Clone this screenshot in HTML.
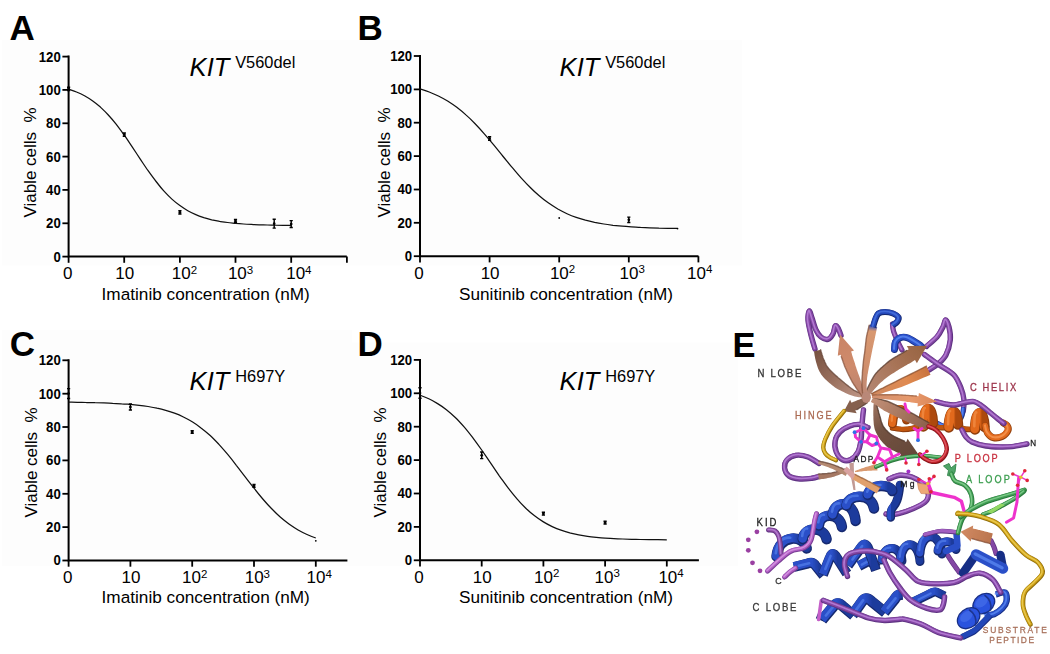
<!DOCTYPE html>
<html lang="en">
<head>
<meta charset="utf-8">
<title>KIT mutant drug response and kinase structure</title>
<style>
html,body{margin:0;padding:0;background:#fff;}
body{width:1050px;height:654px;overflow:hidden;font-family:"Liberation Sans", Arial, Helvetica, sans-serif;}
svg{display:block;}
svg text{font-family:"Liberation Sans", Arial, Helvetica, sans-serif;fill:#000;}
</style>
</head>
<body>
<svg width="1050" height="654" viewBox="0 0 1050 654">
<rect x="0" y="0" width="1050" height="654" fill="#ffffff"/>
<rect x="2" y="40" width="740" height="225.5" fill="#fdfdfd"/>
<rect x="2" y="330" width="350" height="236" fill="#fdfdfd"/>
<rect x="352" y="342.5" width="386" height="223.5" fill="#fdfdfd"/>
<g id="chartA">
<text x="9.6" y="39.8" font-size="35" font-weight="bold">A</text>
<path d="M68.6 55.6 V256.6 H346.8" fill="none" stroke="#000" stroke-width="2"/>
<path d="M62.4 256.6 H68.6" stroke="#000" stroke-width="1.8"/>
<text transform="translate(60.8 261.5) scale(0.95 1)" font-size="13.9" font-weight="bold" text-anchor="end">0</text>
<path d="M62.4 223.3 H68.6" stroke="#000" stroke-width="1.8"/>
<text transform="translate(60.8 228.2) scale(0.95 1)" font-size="13.9" font-weight="bold" text-anchor="end">20</text>
<path d="M62.4 189.9 H68.6" stroke="#000" stroke-width="1.8"/>
<text transform="translate(60.8 194.8) scale(0.95 1)" font-size="13.9" font-weight="bold" text-anchor="end">40</text>
<path d="M62.4 156.6 H68.6" stroke="#000" stroke-width="1.8"/>
<text transform="translate(60.8 161.5) scale(0.95 1)" font-size="13.9" font-weight="bold" text-anchor="end">60</text>
<path d="M62.4 123.3 H68.6" stroke="#000" stroke-width="1.8"/>
<text transform="translate(60.8 128.2) scale(0.95 1)" font-size="13.9" font-weight="bold" text-anchor="end">80</text>
<path d="M62.4 89.9 H68.6" stroke="#000" stroke-width="1.8"/>
<text transform="translate(60.8 94.8) scale(0.95 1)" font-size="13.9" font-weight="bold" text-anchor="end">100</text>
<path d="M62.4 56.6 H68.6" stroke="#000" stroke-width="1.8"/>
<text transform="translate(60.8 61.5) scale(0.95 1)" font-size="13.9" font-weight="bold" text-anchor="end">120</text>
<path d="M68.6 256.6 V262.8" stroke="#000" stroke-width="1.8"/>
<path d="M124.2 256.6 V262.8" stroke="#000" stroke-width="1.8"/>
<path d="M179.9 256.6 V262.8" stroke="#000" stroke-width="1.8"/>
<path d="M235.5 256.6 V262.8" stroke="#000" stroke-width="1.8"/>
<path d="M291.2 256.6 V262.8" stroke="#000" stroke-width="1.8"/>
<path d="M346.9 256.6 V262.8" stroke="#000" stroke-width="1.8"/>
<text x="67.7" y="278.9" font-size="17" text-anchor="middle">0</text>
<text x="124.8" y="278.9" font-size="17" text-anchor="middle">10</text>
<text x="171.8" y="278.9" font-size="17">10<tspan font-size="11.5" dy="-5.2">2</tspan></text>
<text x="227.9" y="278.9" font-size="17">10<tspan font-size="11.5" dy="-5.2">3</tspan></text>
<text x="286.2" y="278.9" font-size="17">10<tspan font-size="11.5" dy="-5.2">4</tspan></text>
<text x="101.6" y="299.6" font-size="17.2">Imatinib concentration (nM)</text>
<text transform="translate(36.4 217.6) rotate(-90)" font-size="17" xml:space="preserve">Viable cells  %</text>
<text x="189.6" y="75.8" font-size="25.6" font-style="italic">KIT</text>
<text x="235.2" y="68.1" font-size="16.4">V560del</text>
<path d="M68.6 89.1C69.9 89.6 73.9 90.9 76.5 92.0C79.2 93.1 81.8 94.3 84.5 95.8C87.2 97.3 89.8 98.9 92.4 100.8C95.1 102.7 97.7 104.8 100.4 107.1C103.0 109.5 105.7 112.1 108.3 115.0C111.0 117.9 113.6 121.0 116.3 124.4C118.9 127.8 121.6 131.4 124.2 135.2C126.9 138.9 129.5 142.9 132.2 146.9C134.8 150.8 137.5 154.9 140.1 158.9C142.8 162.9 145.4 166.9 148.1 170.7C150.8 174.5 153.4 178.1 156.1 181.5C158.7 184.9 161.3 188.2 164.0 191.1C166.7 194.0 169.3 196.7 171.9 199.1C174.6 201.5 177.2 203.7 179.9 205.6C182.5 207.5 185.2 209.2 187.8 210.7C190.5 212.2 193.2 213.5 195.8 214.6C198.5 215.8 201.1 216.7 203.8 217.6C206.4 218.4 209.0 219.1 211.7 219.8C214.3 220.4 217.0 220.9 219.6 221.4C222.3 221.8 224.9 222.2 227.6 222.5C230.2 222.9 232.9 223.1 235.5 223.4C238.2 223.6 240.8 223.8 243.5 224.0C246.2 224.2 248.8 224.3 251.4 224.4C254.1 224.6 256.8 224.7 259.4 224.8C262.0 224.9 264.7 224.9 267.4 225.0C270.0 225.1 272.6 225.1 275.3 225.2C277.9 225.2 280.6 225.2 283.2 225.3C285.9 225.3 289.9 225.3 291.2 225.4" fill="none" stroke="#111" stroke-width="1.25"/>
<path d="M68.6 87.2 V90.4 M67.0 87.2 H70.2 M67.0 90.4 H70.2" stroke="#000" stroke-width="1.45" fill="none"/>
<circle cx="68.6" cy="88.8" r="1.35" fill="#000"/>
<path d="M124.3 133.0 V136.2 M122.7 133.0 H125.9 M122.7 136.2 H125.9" stroke="#000" stroke-width="1.45" fill="none"/>
<circle cx="124.3" cy="134.6" r="1.35" fill="#000"/>
<path d="M179.9 210.7 V213.9 M178.3 210.7 H181.5 M178.3 213.9 H181.5" stroke="#000" stroke-width="1.45" fill="none"/>
<circle cx="179.9" cy="212.3" r="1.35" fill="#000"/>
<path d="M235.5 219.5 V222.3 M233.9 219.5 H237.1 M233.9 222.3 H237.1" stroke="#000" stroke-width="1.45" fill="none"/>
<circle cx="235.5" cy="220.9" r="1.35" fill="#000"/>
<path d="M274.2 219.3 V228.1 M272.6 219.3 H275.8 M272.6 228.1 H275.8" stroke="#000" stroke-width="1.45" fill="none"/>
<circle cx="274.2" cy="223.7" r="1.35" fill="#000"/>
<path d="M291.2 220.6 V227.4 M289.6 220.6 H292.8 M289.6 227.4 H292.8" stroke="#000" stroke-width="1.45" fill="none"/>
<circle cx="291.2" cy="224.0" r="1.35" fill="#000"/>
</g>
<g id="chartB">
<text x="357.6" y="39.6" font-size="35" font-weight="bold">B</text>
<path d="M420.0 55.0 V256.2 H698.5" fill="none" stroke="#000" stroke-width="2"/>
<path d="M413.8 256.2 H420.0" stroke="#000" stroke-width="1.8"/>
<text transform="translate(412.2 261.1) scale(0.95 1)" font-size="13.9" font-weight="bold" text-anchor="end">0</text>
<path d="M413.8 222.8 H420.0" stroke="#000" stroke-width="1.8"/>
<text transform="translate(412.2 227.7) scale(0.95 1)" font-size="13.9" font-weight="bold" text-anchor="end">20</text>
<path d="M413.8 189.5 H420.0" stroke="#000" stroke-width="1.8"/>
<text transform="translate(412.2 194.4) scale(0.95 1)" font-size="13.9" font-weight="bold" text-anchor="end">40</text>
<path d="M413.8 156.1 H420.0" stroke="#000" stroke-width="1.8"/>
<text transform="translate(412.2 161.0) scale(0.95 1)" font-size="13.9" font-weight="bold" text-anchor="end">60</text>
<path d="M413.8 122.7 H420.0" stroke="#000" stroke-width="1.8"/>
<text transform="translate(412.2 127.6) scale(0.95 1)" font-size="13.9" font-weight="bold" text-anchor="end">80</text>
<path d="M413.8 89.4 H420.0" stroke="#000" stroke-width="1.8"/>
<text transform="translate(412.2 94.3) scale(0.95 1)" font-size="13.9" font-weight="bold" text-anchor="end">100</text>
<path d="M413.8 56.0 H420.0" stroke="#000" stroke-width="1.8"/>
<text transform="translate(412.2 60.9) scale(0.95 1)" font-size="13.9" font-weight="bold" text-anchor="end">120</text>
<path d="M420.0 256.2 V262.4" stroke="#000" stroke-width="1.8"/>
<path d="M489.6 256.2 V262.4" stroke="#000" stroke-width="1.8"/>
<path d="M559.2 256.2 V262.4" stroke="#000" stroke-width="1.8"/>
<path d="M628.8 256.2 V262.4" stroke="#000" stroke-width="1.8"/>
<path d="M698.4 256.2 V262.4" stroke="#000" stroke-width="1.8"/>
<text x="419.1" y="278.5" font-size="17" text-anchor="middle">0</text>
<text x="490.1" y="278.5" font-size="17" text-anchor="middle">10</text>
<text x="549.9" y="278.5" font-size="17">10<tspan font-size="11.5" dy="-5.2">2</tspan></text>
<text x="619.5" y="278.5" font-size="17">10<tspan font-size="11.5" dy="-5.2">3</tspan></text>
<text x="687.1" y="278.5" font-size="17">10<tspan font-size="11.5" dy="-5.2">4</tspan></text>
<text x="459.0" y="299.6" font-size="17.2">Sunitinib concentration (nM)</text>
<text transform="translate(389.7 217.6) rotate(-90)" font-size="17" xml:space="preserve">Viable cells  %</text>
<text x="559.6" y="75.8" font-size="25.6" font-style="italic">KIT</text>
<text x="605.2" y="68.1" font-size="16.4">V560del</text>
<path d="M420.0 88.9C421.5 89.4 426.1 90.8 429.2 92.0C432.3 93.2 435.3 94.5 438.4 96.0C441.4 97.5 444.5 99.2 447.6 101.0C450.6 102.9 453.7 105.0 456.8 107.3C459.8 109.6 462.9 112.1 465.9 114.9C469.0 117.6 472.1 120.6 475.1 123.7C478.2 126.9 481.3 130.3 484.3 133.8C487.4 137.3 490.5 141.0 493.5 144.7C496.6 148.4 499.6 152.2 502.7 156.0C505.8 159.7 508.8 163.6 511.9 167.2C515.0 170.8 518.0 174.5 521.1 177.9C524.1 181.2 527.2 184.5 530.3 187.5C533.3 190.6 536.4 193.4 539.5 196.0C542.5 198.6 545.6 201.0 548.6 203.1C551.7 205.3 554.8 207.2 557.8 209.0C560.9 210.7 564.0 212.3 567.0 213.7C570.1 215.1 573.2 216.3 576.2 217.3C579.3 218.4 582.3 219.3 585.4 220.2C588.5 221.0 591.5 221.7 594.6 222.4C597.7 223.0 600.7 223.5 603.8 224.0C606.8 224.5 609.9 224.9 613.0 225.3C616.0 225.6 619.1 225.9 622.2 226.2C625.2 226.5 628.3 226.7 631.4 226.9C634.4 227.1 637.5 227.2 640.5 227.4C643.6 227.5 646.7 227.7 649.7 227.8C652.8 227.9 655.9 228.0 658.9 228.1C662.0 228.1 665.0 228.2 668.1 228.3C671.2 228.3 675.8 228.4 677.3 228.4" fill="none" stroke="#111" stroke-width="1.25"/>
<path d="M489.6 136.8 V140.2 M488.0 136.8 H491.2 M488.0 140.2 H491.2" stroke="#000" stroke-width="1.45" fill="none"/>
<circle cx="489.6" cy="138.5" r="1.35" fill="#000"/>
<circle cx="559.2" cy="218.0" r="0.9" fill="#000"/>
<path d="M628.8 217.1 V222.5 M627.2 217.1 H630.4 M627.2 222.5 H630.4" stroke="#000" stroke-width="1.45" fill="none"/>
<circle cx="628.8" cy="219.8" r="1.35" fill="#000"/>
<circle cx="677.5" cy="228.6" r="0.9" fill="#000"/>
</g>
<g id="chartC">
<text x="9.8" y="356.2" font-size="35" font-weight="bold">C</text>
<path d="M68.6 359.3 V560.5 H347.4" fill="none" stroke="#000" stroke-width="2"/>
<path d="M62.4 560.5 H68.6" stroke="#000" stroke-width="1.8"/>
<text transform="translate(60.8 565.4) scale(0.95 1)" font-size="13.9" font-weight="bold" text-anchor="end">0</text>
<path d="M62.4 527.1 H68.6" stroke="#000" stroke-width="1.8"/>
<text transform="translate(60.8 532.0) scale(0.95 1)" font-size="13.9" font-weight="bold" text-anchor="end">20</text>
<path d="M62.4 493.8 H68.6" stroke="#000" stroke-width="1.8"/>
<text transform="translate(60.8 498.7) scale(0.95 1)" font-size="13.9" font-weight="bold" text-anchor="end">40</text>
<path d="M62.4 460.4 H68.6" stroke="#000" stroke-width="1.8"/>
<text transform="translate(60.8 465.3) scale(0.95 1)" font-size="13.9" font-weight="bold" text-anchor="end">60</text>
<path d="M62.4 427.0 H68.6" stroke="#000" stroke-width="1.8"/>
<text transform="translate(60.8 431.9) scale(0.95 1)" font-size="13.9" font-weight="bold" text-anchor="end">80</text>
<path d="M62.4 393.7 H68.6" stroke="#000" stroke-width="1.8"/>
<text transform="translate(60.8 398.6) scale(0.95 1)" font-size="13.9" font-weight="bold" text-anchor="end">100</text>
<path d="M62.4 360.3 H68.6" stroke="#000" stroke-width="1.8"/>
<text transform="translate(60.8 365.2) scale(0.95 1)" font-size="13.9" font-weight="bold" text-anchor="end">120</text>
<path d="M68.6 560.5 V566.7" stroke="#000" stroke-width="1.8"/>
<path d="M130.4 560.5 V566.7" stroke="#000" stroke-width="1.8"/>
<path d="M192.2 560.5 V566.7" stroke="#000" stroke-width="1.8"/>
<path d="M254.0 560.5 V566.7" stroke="#000" stroke-width="1.8"/>
<path d="M315.8 560.5 V566.7" stroke="#000" stroke-width="1.8"/>
<text x="67.7" y="582.8" font-size="17" text-anchor="middle">0</text>
<text x="130.9" y="582.8" font-size="17" text-anchor="middle">10</text>
<text x="182.0" y="582.8" font-size="17">10<tspan font-size="11.5" dy="-5.2">2</tspan></text>
<text x="244.7" y="582.8" font-size="17">10<tspan font-size="11.5" dy="-5.2">3</tspan></text>
<text x="306.5" y="582.8" font-size="17">10<tspan font-size="11.5" dy="-5.2">4</tspan></text>
<text x="101.6" y="602.8" font-size="17.2">Imatinib concentration (nM)</text>
<text transform="translate(37.0 517.6) rotate(-90)" font-size="17" xml:space="preserve">Viable cells  %</text>
<text x="189.6" y="389.9" font-size="25.6" font-style="italic">KIT</text>
<text x="235.2" y="382.2" font-size="16.4">H697Y</text>
<path d="M68.6 402.2C70.1 402.2 74.5 402.3 77.4 402.3C80.4 402.4 83.3 402.4 86.3 402.5C89.2 402.5 92.1 402.6 95.1 402.7C98.0 402.7 101.0 402.8 103.9 402.9C106.9 403.0 109.8 403.1 112.7 403.3C115.7 403.4 118.6 403.6 121.6 403.8C124.5 403.9 127.5 404.2 130.4 404.4C133.3 404.7 136.3 405.0 139.2 405.3C142.2 405.7 145.1 406.1 148.1 406.5C151.0 407.0 153.9 407.5 156.9 408.2C159.8 408.8 162.8 409.5 165.7 410.3C168.7 411.2 171.6 412.1 174.5 413.2C177.5 414.3 180.4 415.5 183.4 417.0C186.3 418.4 189.3 420.0 192.2 421.8C195.1 423.6 198.1 425.6 201.0 427.9C204.0 430.1 206.9 432.6 209.9 435.3C212.8 438.0 215.7 441.0 218.7 444.1C221.6 447.3 224.6 450.7 227.5 454.2C230.5 457.8 233.4 461.5 236.3 465.3C239.3 469.0 242.2 473.0 245.2 476.8C248.1 480.6 251.1 484.5 254.0 488.2C256.9 491.9 259.9 495.6 262.8 499.0C265.8 502.5 268.7 505.8 271.7 508.8C274.6 511.8 277.5 514.7 280.5 517.3C283.4 519.8 286.4 522.2 289.3 524.3C292.3 526.4 295.2 528.3 298.1 530.0C301.1 531.7 304.0 533.2 307.0 534.5C309.9 535.9 314.3 537.5 315.8 538.0" fill="none" stroke="#111" stroke-width="1.25"/>
<path d="M68.6 388.6 V398.4 M67.0 388.6 H70.2 M67.0 398.4 H70.2" stroke="#000" stroke-width="1.45" fill="none"/>
<circle cx="68.6" cy="393.5" r="1.35" fill="#000"/>
<path d="M130.4 404.0 V410.0 M128.8 404.0 H132.0 M128.8 410.0 H132.0" stroke="#000" stroke-width="1.45" fill="none"/>
<circle cx="130.4" cy="407.0" r="1.35" fill="#000"/>
<path d="M192.2 430.7 V433.3 M190.6 430.7 H193.8 M190.6 433.3 H193.8" stroke="#000" stroke-width="1.45" fill="none"/>
<circle cx="192.2" cy="432.0" r="1.35" fill="#000"/>
<path d="M254.0 484.4 V487.2 M252.4 484.4 H255.6 M252.4 487.2 H255.6" stroke="#000" stroke-width="1.45" fill="none"/>
<circle cx="254.0" cy="485.8" r="1.35" fill="#000"/>
<circle cx="315.8" cy="540.8" r="0.9" fill="#000"/>
</g>
<g id="chartD">
<text x="357.4" y="356.2" font-size="35" font-weight="bold">D</text>
<path d="M420.0 358.9 V560.3 H698.9" fill="none" stroke="#000" stroke-width="2"/>
<path d="M413.8 560.3 H420.0" stroke="#000" stroke-width="1.8"/>
<text transform="translate(412.2 565.2) scale(0.95 1)" font-size="13.9" font-weight="bold" text-anchor="end">0</text>
<path d="M413.8 526.9 H420.0" stroke="#000" stroke-width="1.8"/>
<text transform="translate(412.2 531.8) scale(0.95 1)" font-size="13.9" font-weight="bold" text-anchor="end">20</text>
<path d="M413.8 493.5 H420.0" stroke="#000" stroke-width="1.8"/>
<text transform="translate(412.2 498.4) scale(0.95 1)" font-size="13.9" font-weight="bold" text-anchor="end">40</text>
<path d="M413.8 460.1 H420.0" stroke="#000" stroke-width="1.8"/>
<text transform="translate(412.2 465.0) scale(0.95 1)" font-size="13.9" font-weight="bold" text-anchor="end">60</text>
<path d="M413.8 426.7 H420.0" stroke="#000" stroke-width="1.8"/>
<text transform="translate(412.2 431.6) scale(0.95 1)" font-size="13.9" font-weight="bold" text-anchor="end">80</text>
<path d="M413.8 393.3 H420.0" stroke="#000" stroke-width="1.8"/>
<text transform="translate(412.2 398.2) scale(0.95 1)" font-size="13.9" font-weight="bold" text-anchor="end">100</text>
<path d="M413.8 359.9 H420.0" stroke="#000" stroke-width="1.8"/>
<text transform="translate(412.2 364.8) scale(0.95 1)" font-size="13.9" font-weight="bold" text-anchor="end">120</text>
<path d="M420.0 560.3 V566.5" stroke="#000" stroke-width="1.8"/>
<path d="M481.7 560.3 V566.5" stroke="#000" stroke-width="1.8"/>
<path d="M543.4 560.3 V566.5" stroke="#000" stroke-width="1.8"/>
<path d="M605.1 560.3 V566.5" stroke="#000" stroke-width="1.8"/>
<path d="M666.8 560.3 V566.5" stroke="#000" stroke-width="1.8"/>
<text x="419.1" y="582.6" font-size="17" text-anchor="middle">0</text>
<text x="482.2" y="582.6" font-size="17" text-anchor="middle">10</text>
<text x="534.1" y="582.6" font-size="17">10<tspan font-size="11.5" dy="-5.2">2</tspan></text>
<text x="594.6" y="582.6" font-size="17">10<tspan font-size="11.5" dy="-5.2">3</tspan></text>
<text x="658.4" y="582.6" font-size="17">10<tspan font-size="11.5" dy="-5.2">4</tspan></text>
<text x="459.0" y="603.0" font-size="17.2">Sunitinib concentration (nM)</text>
<text transform="translate(385.7 517.6) rotate(-90)" font-size="17" xml:space="preserve">Viable cells  %</text>
<text x="559.6" y="389.9" font-size="25.6" font-style="italic">KIT</text>
<text x="605.2" y="382.2" font-size="16.4">H697Y</text>
<path d="M420.0 395.2C421.5 395.8 425.9 397.4 428.8 398.8C431.8 400.2 434.7 401.8 437.6 403.6C440.6 405.4 443.5 407.4 446.4 409.7C449.4 412.1 452.3 414.6 455.3 417.5C458.2 420.3 461.1 423.5 464.1 426.9C467.0 430.3 469.9 434.0 472.9 437.8C475.8 441.7 478.8 445.9 481.7 450.0C484.6 454.2 487.6 458.6 490.5 462.9C493.5 467.2 496.4 471.6 499.3 475.8C502.3 479.9 505.2 484.1 508.1 487.9C511.1 491.8 514.0 495.5 517.0 498.8C519.9 502.2 522.8 505.3 525.8 508.2C528.7 511.0 531.6 513.5 534.6 515.8C537.5 518.1 540.5 520.1 543.4 521.9C546.3 523.7 549.3 525.2 552.2 526.6C555.2 528.0 558.1 529.2 561.0 530.2C564.0 531.2 566.9 532.1 569.8 532.9C572.8 533.6 575.7 534.3 578.7 534.8C581.6 535.4 584.5 535.9 587.5 536.3C590.4 536.7 593.3 537.0 596.3 537.3C599.2 537.6 602.2 537.9 605.1 538.1C608.0 538.3 611.0 538.5 613.9 538.6C616.9 538.8 619.8 538.9 622.7 539.0C625.7 539.1 628.6 539.2 631.5 539.3C634.5 539.4 637.4 539.4 640.4 539.5C643.3 539.6 646.2 539.6 649.2 539.6C652.1 539.7 655.0 539.7 658.0 539.7C660.9 539.8 665.3 539.8 666.8 539.8" fill="none" stroke="#111" stroke-width="1.25"/>
<path d="M420.0 387.8 V398.2 M418.4 387.8 H421.6 M418.4 398.2 H421.6" stroke="#000" stroke-width="1.45" fill="none"/>
<circle cx="420.0" cy="393.0" r="1.35" fill="#000"/>
<path d="M481.7 452.0 V458.6 M480.1 452.0 H483.3 M480.1 458.6 H483.3" stroke="#000" stroke-width="1.45" fill="none"/>
<circle cx="481.7" cy="455.3" r="1.35" fill="#000"/>
<path d="M543.4 512.3 V515.1 M541.8 512.3 H545.0 M541.8 515.1 H545.0" stroke="#000" stroke-width="1.45" fill="none"/>
<circle cx="543.4" cy="513.7" r="1.35" fill="#000"/>
<path d="M605.1 521.2 V524.0 M603.5 521.2 H606.7 M603.5 524.0 H606.7" stroke="#000" stroke-width="1.45" fill="none"/>
<circle cx="605.1" cy="522.6" r="1.35" fill="#000"/>
</g>
<defs>
<filter id="soft" x="-5%" y="-5%" width="110%" height="110%"><feGaussianBlur stdDeviation="0.45"/></filter>
<linearGradient id="gBrownD" gradientUnits="userSpaceOnUse" x1="872" y1="402" x2="915" y2="458"><stop offset="0" stop-color="#a07562"/><stop offset="0.4" stop-color="#735242"/><stop offset="1" stop-color="#644838"/></linearGradient>
<linearGradient id="gBrown7" gradientUnits="userSpaceOnUse" x1="872" y1="399" x2="928" y2="427"><stop offset="0" stop-color="#c29078"/><stop offset="0.5" stop-color="#a87860"/><stop offset="1" stop-color="#8c604c"/></linearGradient>
<linearGradient id="gBrown1" gradientUnits="userSpaceOnUse" x1="815" y1="349" x2="864" y2="398"><stop offset="0" stop-color="#75503f"/><stop offset="0.5" stop-color="#9a705e"/><stop offset="1" stop-color="#c09888"/></linearGradient>
<linearGradient id="gSalmon2" gradientUnits="userSpaceOnUse" x1="840" y1="335" x2="864" y2="396"><stop offset="0" stop-color="#c98465"/><stop offset="0.5" stop-color="#cf8b6c"/><stop offset="1" stop-color="#b88472"/></linearGradient>
<linearGradient id="gOrange5" gradientUnits="userSpaceOnUse" x1="872" y1="395" x2="929" y2="370"><stop offset="0" stop-color="#cf8a62"/><stop offset="0.6" stop-color="#e08a50"/><stop offset="1" stop-color="#c8733e"/></linearGradient>
<linearGradient id="gSalmon6" gradientUnits="userSpaceOnUse" x1="872" y1="396" x2="938" y2="402"><stop offset="0" stop-color="#cf8e6e"/><stop offset="0.6" stop-color="#e89a6c"/><stop offset="1" stop-color="#d98558"/></linearGradient>
<linearGradient id="gBrown4" gradientUnits="userSpaceOnUse" x1="868" y1="392" x2="927" y2="346"><stop offset="0" stop-color="#b48672"/><stop offset="0.5" stop-color="#a87458"/><stop offset="1" stop-color="#96623f"/></linearGradient>
<linearGradient id="gSalmon3" gradientUnits="userSpaceOnUse" x1="866" y1="399" x2="873" y2="326"><stop offset="0" stop-color="#b98878"/><stop offset="0.4" stop-color="#cf8e6c"/><stop offset="0.93" stop-color="#d89870"/><stop offset="1" stop-color="#3a55b8"/></linearGradient>
<linearGradient id="gSalmonA" gradientUnits="userSpaceOnUse" x1="960" y1="530" x2="992" y2="542"><stop offset="0" stop-color="#d28a62"/><stop offset="1" stop-color="#b9744e"/></linearGradient>
<linearGradient id="ga0" gradientUnits="userSpaceOnUse" x1="892.5" y1="0" x2="906.5" y2="0"><stop offset="0" stop-color="#e2691c"/><stop offset="0.58" stop-color="#e2691c"/><stop offset="0.82" stop-color="#ad480d"/><stop offset="1" stop-color="#ad480d"/></linearGradient>
<linearGradient id="ga1" gradientUnits="userSpaceOnUse" x1="923.3" y1="0" x2="933.0" y2="0"><stop offset="0" stop-color="#e2691c"/><stop offset="0.55" stop-color="#e2691c"/><stop offset="0.79" stop-color="#ad480d"/><stop offset="1" stop-color="#ad480d"/></linearGradient>
<linearGradient id="ga2" gradientUnits="userSpaceOnUse" x1="948.8" y1="0" x2="958.0" y2="0"><stop offset="0" stop-color="#e2691c"/><stop offset="0.55" stop-color="#e2691c"/><stop offset="0.79" stop-color="#ad480d"/><stop offset="1" stop-color="#ad480d"/></linearGradient>
<linearGradient id="ga3" gradientUnits="userSpaceOnUse" x1="975.0" y1="0" x2="984.5" y2="0"><stop offset="0" stop-color="#e2691c"/><stop offset="0.54" stop-color="#e2691c"/><stop offset="0.78" stop-color="#ad480d"/><stop offset="1" stop-color="#ad480d"/></linearGradient>
<linearGradient id="ga4" gradientUnits="userSpaceOnUse" x1="890.8" y1="0" x2="900.0" y2="0"><stop offset="0" stop-color="#2a50c8"/><stop offset="0.05" stop-color="#2a50c8"/><stop offset="-0.57" stop-color="#1e3a9c"/><stop offset="1" stop-color="#1e3a9c"/></linearGradient>
<linearGradient id="ga5" gradientUnits="userSpaceOnUse" x1="776.5" y1="0" x2="806.7" y2="0"><stop offset="0" stop-color="#2a50c8"/><stop offset="0.53" stop-color="#2a50c8"/><stop offset="0.77" stop-color="#1e3a9c"/><stop offset="1" stop-color="#1e3a9c"/></linearGradient>
<linearGradient id="ga6" gradientUnits="userSpaceOnUse" x1="802.9" y1="0" x2="826.6" y2="0"><stop offset="0" stop-color="#2a50c8"/><stop offset="0.27" stop-color="#2a50c8"/><stop offset="0.51" stop-color="#1e3a9c"/><stop offset="1" stop-color="#1e3a9c"/></linearGradient>
<linearGradient id="ga7" gradientUnits="userSpaceOnUse" x1="818.9" y1="0" x2="841.9" y2="0"><stop offset="0" stop-color="#2a50c8"/><stop offset="0.31" stop-color="#2a50c8"/><stop offset="0.55" stop-color="#1e3a9c"/><stop offset="1" stop-color="#1e3a9c"/></linearGradient>
<linearGradient id="ga8" gradientUnits="userSpaceOnUse" x1="832.7" y1="0" x2="855.6" y2="0"><stop offset="0" stop-color="#2a50c8"/><stop offset="0.38" stop-color="#2a50c8"/><stop offset="0.62" stop-color="#1e3a9c"/><stop offset="1" stop-color="#1e3a9c"/></linearGradient>
<linearGradient id="ga9" gradientUnits="userSpaceOnUse" x1="846.5" y1="0" x2="874.0" y2="0"><stop offset="0" stop-color="#2a50c8"/><stop offset="0.48" stop-color="#2a50c8"/><stop offset="0.72" stop-color="#1e3a9c"/><stop offset="1" stop-color="#1e3a9c"/></linearGradient>
<linearGradient id="ga10" gradientUnits="userSpaceOnUse" x1="867.9" y1="0" x2="892.3" y2="0"><stop offset="0" stop-color="#2a50c8"/><stop offset="0.60" stop-color="#2a50c8"/><stop offset="0.84" stop-color="#1e3a9c"/><stop offset="1" stop-color="#1e3a9c"/></linearGradient>
<linearGradient id="ga11" gradientUnits="userSpaceOnUse" x1="794.0" y1="0" x2="823.5" y2="0"><stop offset="0" stop-color="#2a50c8"/><stop offset="0.62" stop-color="#2a50c8"/><stop offset="0.86" stop-color="#1e3a9c"/><stop offset="1" stop-color="#1e3a9c"/></linearGradient>
<linearGradient id="ga12" gradientUnits="userSpaceOnUse" x1="822.9" y1="0" x2="846.9" y2="0"><stop offset="0" stop-color="#2a50c8"/><stop offset="0.38" stop-color="#2a50c8"/><stop offset="0.62" stop-color="#1e3a9c"/><stop offset="1" stop-color="#1e3a9c"/></linearGradient>
<linearGradient id="ga13" gradientUnits="userSpaceOnUse" x1="859.0" y1="0" x2="877.0" y2="0"><stop offset="0" stop-color="#2a50c8"/><stop offset="0.59" stop-color="#2a50c8"/><stop offset="0.83" stop-color="#1e3a9c"/><stop offset="1" stop-color="#1e3a9c"/></linearGradient>
<linearGradient id="ga14" gradientUnits="userSpaceOnUse" x1="848.0" y1="0" x2="876.0" y2="0"><stop offset="0" stop-color="#2a50c8"/><stop offset="0.61" stop-color="#2a50c8"/><stop offset="0.85" stop-color="#1e3a9c"/><stop offset="1" stop-color="#1e3a9c"/></linearGradient>
<linearGradient id="ga15" gradientUnits="userSpaceOnUse" x1="882.0" y1="0" x2="902.0" y2="0"><stop offset="0" stop-color="#2a50c8"/><stop offset="0.53" stop-color="#2a50c8"/><stop offset="0.77" stop-color="#1e3a9c"/><stop offset="1" stop-color="#1e3a9c"/></linearGradient>
<linearGradient id="ga16" gradientUnits="userSpaceOnUse" x1="900.5" y1="0" x2="920.0" y2="0"><stop offset="0" stop-color="#2a50c8"/><stop offset="0.47" stop-color="#2a50c8"/><stop offset="0.71" stop-color="#1e3a9c"/><stop offset="1" stop-color="#1e3a9c"/></linearGradient>
<linearGradient id="ga17" gradientUnits="userSpaceOnUse" x1="920.0" y1="0" x2="942.0" y2="0"><stop offset="0" stop-color="#2a50c8"/><stop offset="0.39" stop-color="#2a50c8"/><stop offset="0.63" stop-color="#1e3a9c"/><stop offset="1" stop-color="#1e3a9c"/></linearGradient>
<linearGradient id="ga18" gradientUnits="userSpaceOnUse" x1="938.0" y1="0" x2="956.0" y2="0"><stop offset="0" stop-color="#2a50c8"/><stop offset="0.54" stop-color="#2a50c8"/><stop offset="0.78" stop-color="#1e3a9c"/><stop offset="1" stop-color="#1e3a9c"/></linearGradient>
<linearGradient id="ga19" gradientUnits="userSpaceOnUse" x1="822.0" y1="0" x2="853.7" y2="0"><stop offset="0" stop-color="#2a50c8"/><stop offset="0.47" stop-color="#2a50c8"/><stop offset="0.71" stop-color="#1e3a9c"/><stop offset="1" stop-color="#1e3a9c"/></linearGradient>
<linearGradient id="ga20" gradientUnits="userSpaceOnUse" x1="852.5" y1="0" x2="885.4" y2="0"><stop offset="0" stop-color="#2a50c8"/><stop offset="0.38" stop-color="#2a50c8"/><stop offset="0.62" stop-color="#1e3a9c"/><stop offset="1" stop-color="#1e3a9c"/></linearGradient>
<linearGradient id="ga21" gradientUnits="userSpaceOnUse" x1="884.2" y1="0" x2="902.5" y2="0"><stop offset="0" stop-color="#2a50c8"/><stop offset="0.75" stop-color="#2a50c8"/><stop offset="0.97" stop-color="#1e3a9c"/><stop offset="1" stop-color="#1e3a9c"/></linearGradient>
<linearGradient id="ga22" gradientUnits="userSpaceOnUse" x1="912.9" y1="0" x2="944.5" y2="0"><stop offset="0" stop-color="#2a50c8"/><stop offset="0.68" stop-color="#2a50c8"/><stop offset="0.92" stop-color="#1e3a9c"/><stop offset="1" stop-color="#1e3a9c"/></linearGradient>
</defs>
<g id="panelE">
<text x="732.4" y="357.0" font-size="34.5" font-weight="bold">E</text>
<g id="protein" filter="url(#soft)">
<path d="M815.0 349.0C814.3 346.7 812.2 339.8 811.0 335.0C809.8 330.2 808.3 324.0 808.0 320.0C807.7 316.0 808.6 311.3 809.3 311.0C810.0 310.7 810.9 314.8 812.0 318.0C813.1 321.2 814.5 326.8 816.0 330.0C817.5 333.2 819.0 335.4 821.0 337.0C823.0 338.6 826.0 339.8 828.0 339.3C830.0 338.8 831.8 336.2 833.0 334.0C834.2 331.8 834.4 327.0 835.2 326.0C836.0 325.0 837.0 326.4 838.0 328.0C839.0 329.6 840.5 334.2 841.0 335.5" fill="none" stroke="#5e3382" stroke-width="5.4" stroke-linecap="round" stroke-linejoin="round"/>
<path d="M815.0 349.0C814.3 346.7 812.2 339.8 811.0 335.0C809.8 330.2 808.3 324.0 808.0 320.0C807.7 316.0 808.6 311.3 809.3 311.0C810.0 310.7 810.9 314.8 812.0 318.0C813.1 321.2 814.5 326.8 816.0 330.0C817.5 333.2 819.0 335.4 821.0 337.0C823.0 338.6 826.0 339.8 828.0 339.3C830.0 338.8 831.8 336.2 833.0 334.0C834.2 331.8 834.4 327.0 835.2 326.0C836.0 325.0 837.0 326.4 838.0 328.0C839.0 329.6 840.5 334.2 841.0 335.5" fill="none" stroke="#8446a4" stroke-width="4.1" stroke-linecap="round" stroke-linejoin="round" transform="translate(-0.3 -0.4)"/>
<path d="M815.0 349.0C814.3 346.7 812.2 339.8 811.0 335.0C809.8 330.2 808.3 324.0 808.0 320.0C807.7 316.0 808.6 311.3 809.3 311.0C810.0 310.7 810.9 314.8 812.0 318.0C813.1 321.2 814.5 326.8 816.0 330.0C817.5 333.2 819.0 335.4 821.0 337.0C823.0 338.6 826.0 339.8 828.0 339.3C830.0 338.8 831.8 336.2 833.0 334.0C834.2 331.8 834.4 327.0 835.2 326.0C836.0 325.0 837.0 326.4 838.0 328.0C839.0 329.6 840.5 334.2 841.0 335.5" fill="none" stroke="#c08ae0" stroke-width="1.6" stroke-linecap="round" stroke-linejoin="round" opacity="0.75" transform="translate(-0.5 -0.6)"/>
<path d="M926.5 346.5C928.2 344.9 934.2 340.2 937.0 337.0C939.8 333.8 941.6 329.8 943.0 327.0C944.4 324.2 944.6 320.0 945.6 320.0C946.6 320.0 948.2 323.7 949.0 327.0C949.8 330.3 950.8 335.3 950.3 340.0C949.8 344.7 948.0 351.0 946.0 355.0C944.0 359.0 940.8 361.5 938.0 364.0C935.2 366.5 930.5 369.0 929.0 370.0" fill="none" stroke="#5e3382" stroke-width="5.4" stroke-linecap="round" stroke-linejoin="round"/>
<path d="M926.5 346.5C928.2 344.9 934.2 340.2 937.0 337.0C939.8 333.8 941.6 329.8 943.0 327.0C944.4 324.2 944.6 320.0 945.6 320.0C946.6 320.0 948.2 323.7 949.0 327.0C949.8 330.3 950.8 335.3 950.3 340.0C949.8 344.7 948.0 351.0 946.0 355.0C944.0 359.0 940.8 361.5 938.0 364.0C935.2 366.5 930.5 369.0 929.0 370.0" fill="none" stroke="#8446a4" stroke-width="4.1" stroke-linecap="round" stroke-linejoin="round" transform="translate(-0.3 -0.4)"/>
<path d="M926.5 346.5C928.2 344.9 934.2 340.2 937.0 337.0C939.8 333.8 941.6 329.8 943.0 327.0C944.4 324.2 944.6 320.0 945.6 320.0C946.6 320.0 948.2 323.7 949.0 327.0C949.8 330.3 950.8 335.3 950.3 340.0C949.8 344.7 948.0 351.0 946.0 355.0C944.0 359.0 940.8 361.5 938.0 364.0C935.2 366.5 930.5 369.0 929.0 370.0" fill="none" stroke="#c08ae0" stroke-width="1.6" stroke-linecap="round" stroke-linejoin="round" opacity="0.75" transform="translate(-0.5 -0.6)"/>
<path d="M892.5 324.0C892.7 325.2 892.7 328.2 893.5 331.0C894.3 333.8 896.1 337.8 897.5 341.0C898.9 344.2 901.2 348.5 902.0 350.0" fill="none" stroke="#5e3382" stroke-width="5.2" stroke-linecap="round" stroke-linejoin="round"/>
<path d="M892.5 324.0C892.7 325.2 892.7 328.2 893.5 331.0C894.3 333.8 896.1 337.8 897.5 341.0C898.9 344.2 901.2 348.5 902.0 350.0" fill="none" stroke="#8446a4" stroke-width="3.9" stroke-linecap="round" stroke-linejoin="round" transform="translate(-0.3 -0.4)"/>
<path d="M892.5 324.0C892.7 325.2 892.7 328.2 893.5 331.0C894.3 333.8 896.1 337.8 897.5 341.0C898.9 344.2 901.2 348.5 902.0 350.0" fill="none" stroke="#c08ae0" stroke-width="1.6" stroke-linecap="round" stroke-linejoin="round" opacity="0.75" transform="translate(-0.5 -0.6)"/>
<path d="M894.5 349.5C894.7 348.2 894.4 344.0 895.5 342.0C896.6 340.0 898.9 338.2 901.0 337.5C903.1 336.8 905.7 337.2 908.0 338.0C910.3 338.8 912.8 340.7 915.0 342.0C917.2 343.3 920.0 345.3 921.0 346.0" fill="none" stroke="#192f85" stroke-width="7.0" stroke-linecap="round" stroke-linejoin="round"/>
<path d="M894.5 349.5C894.7 348.2 894.4 344.0 895.5 342.0C896.6 340.0 898.9 338.2 901.0 337.5C903.1 336.8 905.7 337.2 908.0 338.0C910.3 338.8 912.8 340.7 915.0 342.0C917.2 343.3 920.0 345.3 921.0 346.0" fill="none" stroke="#2a50c8" stroke-width="5.7" stroke-linecap="round" stroke-linejoin="round" transform="translate(-0.3 -0.4)"/>
<path d="M894.5 349.5C894.7 348.2 894.4 344.0 895.5 342.0C896.6 340.0 898.9 338.2 901.0 337.5C903.1 336.8 905.7 337.2 908.0 338.0C910.3 338.8 912.8 340.7 915.0 342.0C917.2 343.3 920.0 345.3 921.0 346.0" fill="none" stroke="#5f8cf5" stroke-width="2.1" stroke-linecap="round" stroke-linejoin="round" opacity="0.75" transform="translate(-0.5 -0.6)"/>
<path d="M924.5 354.5C925.8 355.4 929.4 358.2 932.0 360.0C934.6 361.8 936.3 363.0 940.0 365.5C943.7 368.0 950.5 371.2 954.0 375.0C957.5 378.8 959.3 383.8 961.0 388.0C962.7 392.2 963.6 396.2 964.0 400.0C964.4 403.8 963.4 409.2 963.3 411.0" fill="none" stroke="#5e3382" stroke-width="5.4" stroke-linecap="round" stroke-linejoin="round"/>
<path d="M924.5 354.5C925.8 355.4 929.4 358.2 932.0 360.0C934.6 361.8 936.3 363.0 940.0 365.5C943.7 368.0 950.5 371.2 954.0 375.0C957.5 378.8 959.3 383.8 961.0 388.0C962.7 392.2 963.6 396.2 964.0 400.0C964.4 403.8 963.4 409.2 963.3 411.0" fill="none" stroke="#8446a4" stroke-width="4.1" stroke-linecap="round" stroke-linejoin="round" transform="translate(-0.3 -0.4)"/>
<path d="M924.5 354.5C925.8 355.4 929.4 358.2 932.0 360.0C934.6 361.8 936.3 363.0 940.0 365.5C943.7 368.0 950.5 371.2 954.0 375.0C957.5 378.8 959.3 383.8 961.0 388.0C962.7 392.2 963.6 396.2 964.0 400.0C964.4 403.8 963.4 409.2 963.3 411.0" fill="none" stroke="#c08ae0" stroke-width="1.6" stroke-linecap="round" stroke-linejoin="round" opacity="0.75" transform="translate(-0.5 -0.6)"/>
<path d="M963.3 410.0C963.0 411.0 962.5 414.2 961.5 416.0C960.5 417.8 957.8 420.2 957.0 421.0" fill="none" stroke="#192f85" stroke-width="3.6" stroke-linecap="round" stroke-linejoin="round"/>
<path d="M963.3 410.0C963.0 411.0 962.5 414.2 961.5 416.0C960.5 417.8 957.8 420.2 957.0 421.0" fill="none" stroke="#2a50c8" stroke-width="2.3" stroke-linecap="round" stroke-linejoin="round" transform="translate(-0.3 -0.4)"/>
<path d="M963.3 410.0C963.0 411.0 962.5 414.2 961.5 416.0C960.5 417.8 957.8 420.2 957.0 421.0" fill="none" stroke="#5f8cf5" stroke-width="1.1" stroke-linecap="round" stroke-linejoin="round" opacity="0.75" transform="translate(-0.5 -0.6)"/>
<path d="M963.3 409.0C963.2 410.0 963.1 413.1 962.5 415.0C961.9 416.9 960.8 419.1 959.5 420.5C958.2 421.9 955.8 423.0 955.0 423.5" fill="none" stroke="#192f85" stroke-width="4.6" stroke-linecap="round" stroke-linejoin="round"/>
<path d="M963.3 409.0C963.2 410.0 963.1 413.1 962.5 415.0C961.9 416.9 960.8 419.1 959.5 420.5C958.2 421.9 955.8 423.0 955.0 423.5" fill="none" stroke="#3a62d8" stroke-width="3.3" stroke-linecap="round" stroke-linejoin="round" transform="translate(-0.3 -0.4)"/>
<path d="M963.3 409.0C963.2 410.0 963.1 413.1 962.5 415.0C961.9 416.9 960.8 419.1 959.5 420.5C958.2 421.9 955.8 423.0 955.0 423.5" fill="none" stroke="#5f8cf5" stroke-width="1.4" stroke-linecap="round" stroke-linejoin="round" opacity="0.75" transform="translate(-0.5 -0.6)"/>
<path d="M951.0 425.0C949.8 425.2 946.2 426.3 944.0 426.0C941.8 425.7 938.6 423.5 937.5 423.0" fill="none" stroke="#192f85" stroke-width="4.4" stroke-linecap="round" stroke-linejoin="round"/>
<path d="M951.0 425.0C949.8 425.2 946.2 426.3 944.0 426.0C941.8 425.7 938.6 423.5 937.5 423.0" fill="none" stroke="#3a62d8" stroke-width="3.1" stroke-linecap="round" stroke-linejoin="round" transform="translate(-0.3 -0.4)"/>
<path d="M951.0 425.0C949.8 425.2 946.2 426.3 944.0 426.0C941.8 425.7 938.6 423.5 937.5 423.0" fill="none" stroke="#5f8cf5" stroke-width="1.3" stroke-linecap="round" stroke-linejoin="round" opacity="0.75" transform="translate(-0.5 -0.6)"/>
<path d="M863.5 410.0C863.2 412.5 862.4 420.0 862.0 425.0C861.6 430.0 861.7 435.5 861.0 440.0C860.3 444.5 859.7 448.8 858.0 452.0C856.3 455.2 853.5 458.2 851.0 459.5C848.5 460.8 845.5 461.2 843.0 460.0C840.5 458.8 837.6 455.2 836.3 452.0C835.0 448.8 834.6 444.3 835.2 441.0C835.8 437.7 837.5 434.5 840.0 432.0C842.5 429.5 846.7 427.2 850.0 426.0C853.3 424.8 857.0 424.2 860.0 424.5C863.0 424.8 866.7 427.0 868.0 427.5" fill="none" stroke="#5e3382" stroke-width="5.4" stroke-linecap="round" stroke-linejoin="round"/>
<path d="M863.5 410.0C863.2 412.5 862.4 420.0 862.0 425.0C861.6 430.0 861.7 435.5 861.0 440.0C860.3 444.5 859.7 448.8 858.0 452.0C856.3 455.2 853.5 458.2 851.0 459.5C848.5 460.8 845.5 461.2 843.0 460.0C840.5 458.8 837.6 455.2 836.3 452.0C835.0 448.8 834.6 444.3 835.2 441.0C835.8 437.7 837.5 434.5 840.0 432.0C842.5 429.5 846.7 427.2 850.0 426.0C853.3 424.8 857.0 424.2 860.0 424.5C863.0 424.8 866.7 427.0 868.0 427.5" fill="none" stroke="#8446a4" stroke-width="4.1" stroke-linecap="round" stroke-linejoin="round" transform="translate(-0.3 -0.4)"/>
<path d="M863.5 410.0C863.2 412.5 862.4 420.0 862.0 425.0C861.6 430.0 861.7 435.5 861.0 440.0C860.3 444.5 859.7 448.8 858.0 452.0C856.3 455.2 853.5 458.2 851.0 459.5C848.5 460.8 845.5 461.2 843.0 460.0C840.5 458.8 837.6 455.2 836.3 452.0C835.0 448.8 834.6 444.3 835.2 441.0C835.8 437.7 837.5 434.5 840.0 432.0C842.5 429.5 846.7 427.2 850.0 426.0C853.3 424.8 857.0 424.2 860.0 424.5C863.0 424.8 866.7 427.0 868.0 427.5" fill="none" stroke="#c08ae0" stroke-width="1.6" stroke-linecap="round" stroke-linejoin="round" opacity="0.75" transform="translate(-0.5 -0.6)"/>
<path d="M892.5 428.0C894.2 428.2 899.5 429.5 903.0 429.5C906.5 429.5 910.4 428.9 913.5 428.2C916.6 427.5 920.2 425.9 921.5 425.5" fill="none" stroke="#8e3d0b" stroke-width="5.5" stroke-linecap="round" stroke-linejoin="round"/>
<path d="M892.5 428.0C894.2 428.2 899.5 429.5 903.0 429.5C906.5 429.5 910.4 428.9 913.5 428.2C916.6 427.5 920.2 425.9 921.5 425.5" fill="none" stroke="#c2560f" stroke-width="4.2" stroke-linecap="round" stroke-linejoin="round" transform="translate(-0.3 -0.4)"/>
<path d="M933.0 423.0C933.8 423.8 935.4 426.8 938.0 427.5C940.6 428.2 947.0 427.5 948.8 427.5" fill="none" stroke="#8e3d0b" stroke-width="5.5" stroke-linecap="round" stroke-linejoin="round"/>
<path d="M933.0 423.0C933.8 423.8 935.4 426.8 938.0 427.5C940.6 428.2 947.0 427.5 948.8 427.5" fill="none" stroke="#c2560f" stroke-width="4.2" stroke-linecap="round" stroke-linejoin="round" transform="translate(-0.3 -0.4)"/>
<path d="M958.0 424.5C959.0 425.2 961.2 428.2 964.0 429.0C966.8 429.8 973.2 429.4 975.0 429.5" fill="none" stroke="#8e3d0b" stroke-width="5.5" stroke-linecap="round" stroke-linejoin="round"/>
<path d="M958.0 424.5C959.0 425.2 961.2 428.2 964.0 429.0C966.8 429.8 973.2 429.4 975.0 429.5" fill="none" stroke="#c2560f" stroke-width="4.2" stroke-linecap="round" stroke-linejoin="round" transform="translate(-0.3 -0.4)"/>
<path d="M984.5 427.0C984.8 427.4 985.8 429.1 986.0 429.5" fill="none" stroke="#8e3d0b" stroke-width="5.5" stroke-linecap="round" stroke-linejoin="round"/>
<path d="M984.5 427.0C984.8 427.4 985.8 429.1 986.0 429.5" fill="none" stroke="#c2560f" stroke-width="4.2" stroke-linecap="round" stroke-linejoin="round" transform="translate(-0.3 -0.4)"/>
<path d="M892.5 424.0 C893.5 404.8 905.4 406.2 906.5 420.0" fill="none" stroke="#8e3d0b" stroke-width="9.0" stroke-linecap="round"/>
<path d="M892.5 424.0 C893.5 404.8 905.4 406.2 906.5 420.0" fill="none" stroke="url(#ga0)" stroke-width="7.2" stroke-linecap="round" transform="translate(-0.3 -0.7)"/>
<path d="M893.0 422.0 Q893.5 409.2 897.5 409.9" fill="none" stroke="#f79a55" stroke-width="2.2" stroke-linecap="round" opacity="0.55" transform="translate(-1.2 -1.2)"/>
<path d="M923.3 426.5 C923.9 403.2 932.2 404.1 933.0 423.5" fill="none" stroke="#8e3d0b" stroke-width="10.5" stroke-linecap="round"/>
<path d="M923.3 426.5 C923.9 403.2 932.2 404.1 933.0 423.5" fill="none" stroke="url(#ga1)" stroke-width="8.7" stroke-linecap="round" transform="translate(-0.3 -0.7)"/>
<path d="M923.8 424.5 Q923.9 408.4 926.0 409.2" fill="none" stroke="#f79a55" stroke-width="2.6" stroke-linecap="round" opacity="0.55" transform="translate(-1.2 -1.2)"/>
<path d="M948.8 427.5 C949.4 406.7 957.2 407.7 958.0 424.5" fill="none" stroke="#8e3d0b" stroke-width="10.5" stroke-linecap="round"/>
<path d="M948.8 427.5 C949.4 406.7 957.2 407.7 958.0 424.5" fill="none" stroke="url(#ga2)" stroke-width="8.7" stroke-linecap="round" transform="translate(-0.3 -0.7)"/>
<path d="M949.3 425.5 Q949.4 411.4 951.3 412.2" fill="none" stroke="#f79a55" stroke-width="2.6" stroke-linecap="round" opacity="0.55" transform="translate(-1.2 -1.2)"/>
<path d="M975.0 429.5 C975.6 407.9 983.7 408.7 984.5 427.0" fill="none" stroke="#8e3d0b" stroke-width="10.5" stroke-linecap="round"/>
<path d="M975.0 429.5 C975.6 407.9 983.7 408.7 984.5 427.0" fill="none" stroke="url(#ga3)" stroke-width="8.7" stroke-linecap="round" transform="translate(-0.3 -0.7)"/>
<path d="M975.5 427.5 Q975.6 412.8 977.5 413.6" fill="none" stroke="#f79a55" stroke-width="2.6" stroke-linecap="round" opacity="0.55" transform="translate(-1.2 -1.2)"/>
<path d="M985.5 426.0C985.8 427.2 986.2 431.1 987.5 433.0C988.8 434.9 990.6 437.0 993.0 437.6C995.4 438.2 999.5 437.8 1002.0 436.6C1004.5 435.4 1007.2 432.4 1008.0 430.5C1008.8 428.6 1007.8 426.7 1007.0 425.5C1006.2 424.3 1004.1 423.6 1003.5 423.2" fill="none" stroke="#8e3d0b" stroke-width="7.0" stroke-linecap="round" stroke-linejoin="round"/>
<path d="M985.5 426.0C985.8 427.2 986.2 431.1 987.5 433.0C988.8 434.9 990.6 437.0 993.0 437.6C995.4 438.2 999.5 437.8 1002.0 436.6C1004.5 435.4 1007.2 432.4 1008.0 430.5C1008.8 428.6 1007.8 426.7 1007.0 425.5C1006.2 424.3 1004.1 423.6 1003.5 423.2" fill="none" stroke="#e2691c" stroke-width="5.7" stroke-linecap="round" stroke-linejoin="round" transform="translate(-0.3 -0.4)"/>
<path d="M985.5 426.0C985.8 427.2 986.2 431.1 987.5 433.0C988.8 434.9 990.6 437.0 993.0 437.6C995.4 438.2 999.5 437.8 1002.0 436.6C1004.5 435.4 1007.2 432.4 1008.0 430.5C1008.8 428.6 1007.8 426.7 1007.0 425.5C1006.2 424.3 1004.1 423.6 1003.5 423.2" fill="none" stroke="#f79a55" stroke-width="2.1" stroke-linecap="round" stroke-linejoin="round" opacity="0.75" transform="translate(-0.5 -0.6)"/>
<path d="M936.0 401.5C937.5 401.9 942.0 403.2 945.0 403.8C948.0 404.4 950.8 405.2 954.0 405.0C957.2 404.8 960.7 403.4 964.0 402.8C967.3 402.2 971.0 401.1 974.0 401.6C977.0 402.1 979.3 404.2 982.0 406.0C984.7 407.8 987.3 410.3 990.0 412.5C992.7 414.7 995.7 417.2 998.0 419.0C1000.3 420.8 1003.0 422.8 1004.0 423.5" fill="none" stroke="#5e3382" stroke-width="5.4" stroke-linecap="round" stroke-linejoin="round"/>
<path d="M936.0 401.5C937.5 401.9 942.0 403.2 945.0 403.8C948.0 404.4 950.8 405.2 954.0 405.0C957.2 404.8 960.7 403.4 964.0 402.8C967.3 402.2 971.0 401.1 974.0 401.6C977.0 402.1 979.3 404.2 982.0 406.0C984.7 407.8 987.3 410.3 990.0 412.5C992.7 414.7 995.7 417.2 998.0 419.0C1000.3 420.8 1003.0 422.8 1004.0 423.5" fill="none" stroke="#8446a4" stroke-width="4.1" stroke-linecap="round" stroke-linejoin="round" transform="translate(-0.3 -0.4)"/>
<path d="M936.0 401.5C937.5 401.9 942.0 403.2 945.0 403.8C948.0 404.4 950.8 405.2 954.0 405.0C957.2 404.8 960.7 403.4 964.0 402.8C967.3 402.2 971.0 401.1 974.0 401.6C977.0 402.1 979.3 404.2 982.0 406.0C984.7 407.8 987.3 410.3 990.0 412.5C992.7 414.7 995.7 417.2 998.0 419.0C1000.3 420.8 1003.0 422.8 1004.0 423.5" fill="none" stroke="#c08ae0" stroke-width="1.6" stroke-linecap="round" stroke-linejoin="round" opacity="0.75" transform="translate(-0.5 -0.6)"/>
<path d="M962.0 430.0C962.7 431.2 964.3 435.0 966.0 437.0C967.7 439.0 968.7 440.5 972.0 442.0C975.3 443.5 981.3 445.2 986.0 446.0C990.7 446.8 995.7 446.9 1000.0 447.0C1004.3 447.1 1007.5 447.1 1012.0 446.6C1016.5 446.1 1024.5 444.4 1027.0 444.0" fill="none" stroke="#5e3382" stroke-width="5.4" stroke-linecap="round" stroke-linejoin="round"/>
<path d="M962.0 430.0C962.7 431.2 964.3 435.0 966.0 437.0C967.7 439.0 968.7 440.5 972.0 442.0C975.3 443.5 981.3 445.2 986.0 446.0C990.7 446.8 995.7 446.9 1000.0 447.0C1004.3 447.1 1007.5 447.1 1012.0 446.6C1016.5 446.1 1024.5 444.4 1027.0 444.0" fill="none" stroke="#8446a4" stroke-width="4.1" stroke-linecap="round" stroke-linejoin="round" transform="translate(-0.3 -0.4)"/>
<path d="M962.0 430.0C962.7 431.2 964.3 435.0 966.0 437.0C967.7 439.0 968.7 440.5 972.0 442.0C975.3 443.5 981.3 445.2 986.0 446.0C990.7 446.8 995.7 446.9 1000.0 447.0C1004.3 447.1 1007.5 447.1 1012.0 446.6C1016.5 446.1 1024.5 444.4 1027.0 444.0" fill="none" stroke="#c08ae0" stroke-width="1.6" stroke-linecap="round" stroke-linejoin="round" opacity="0.75" transform="translate(-0.5 -0.6)"/>
<path d="M873.5 404.2L873.5 404.9L873.5 405.8L873.4 406.9L873.4 408.1L873.4 409.4L873.3 410.8L873.3 412.3L873.3 413.7L873.3 415.2L873.4 416.5L873.4 417.8L873.4 419.1L873.5 420.4L873.6 421.8L873.7 423.3L873.8 424.8L874.1 426.3L874.4 427.9L874.8 429.5L875.4 431.0L876.0 432.6L876.8 434.0L877.6 435.5L878.4 436.9L879.4 438.3L880.3 439.7L881.4 441.0L882.4 442.3L883.5 443.5L884.6 444.6L885.7 445.7L886.9 446.8L888.1 447.7L889.4 448.5L890.6 449.2L891.9 449.9L893.1 450.5L894.4 451.1L895.7 451.8L897.1 452.5L898.8 453.3L900.9 454.3L899.5 457.6L918.5 454.6L907.6 438.7L906.2 442.0L904.5 441.2L902.9 440.5L901.4 439.8L900.0 439.2L898.8 438.6L897.7 438.1L896.7 437.6L895.8 437.2L895.0 436.8L894.1 436.4L893.3 435.9L892.4 435.4L891.5 434.7L890.5 434.0L889.5 433.2L888.5 432.4L887.6 431.5L886.7 430.6L885.8 429.7L885.0 428.8L884.3 427.8L883.6 427.0L883.1 426.1L882.6 425.2L882.2 424.1L881.8 423.0L881.4 421.9L881.0 420.6L880.7 419.4L880.4 418.1L880.0 416.7L879.6 415.5L879.2 414.2L878.8 413.0L878.5 411.6L878.1 410.3L877.8 408.9L877.4 407.7L877.2 406.5L876.9 405.4L876.7 404.5L876.5 403.8Z" fill="url(#gBrownD)" stroke="none" stroke-width="0" stroke-linejoin="round"/>
<path d="M876.5 403.8L876.7 404.5L876.9 405.4L877.2 406.5L877.4 407.7L877.8 408.9L878.1 410.3L878.5 411.6L878.8 413.0L879.2 414.2L879.6 415.5L880.0 416.7L880.4 418.1L880.7 419.4L881.0 420.6L881.4 421.9L881.8 423.0L882.2 424.1L882.6 425.2L883.1 426.1L883.6 427.0L884.3 427.8L885.0 428.8L885.8 429.7L886.7 430.6L887.6 431.5L888.5 432.4L889.5 433.2L890.5 434.0L891.5 434.7L892.4 435.4L893.3 435.9L894.1 436.4L895.0 436.8L895.8 437.2L896.7 437.6L897.7 438.1L898.8 438.6L900.0 439.2L901.4 439.8L902.9 440.5L904.5 441.2" fill="none" stroke="#4e362b" stroke-width="1.4" stroke-linecap="round" opacity="0.8"/>
<path d="M870.9 401.8L871.8 402.4L872.9 403.1L874.3 404.0L875.8 405.0L877.4 406.1L879.0 407.3L880.8 408.4L882.5 409.6L884.1 410.7L885.8 411.5L887.4 412.3L889.0 413.2L890.6 414.0L892.2 414.8L893.8 415.6L895.5 416.4L897.2 417.3L898.9 418.1L900.8 419.0L902.8 419.8L904.9 420.8L907.4 421.9L909.9 423.1L912.6 424.2L915.3 425.3L918.0 426.4L920.4 427.4L922.6 428.3L924.4 429.1L925.9 429.7L929.1 422.9L927.8 422.2L926.1 421.2L924.0 420.0L921.7 418.7L919.3 417.3L916.7 415.8L914.2 414.4L911.7 413.1L909.3 411.9L907.2 410.8L905.3 409.7L903.5 408.8L901.8 407.9L900.1 407.1L898.4 406.3L896.7 405.5L895.1 404.7L893.5 404.0L891.8 403.2L890.2 402.5L888.4 401.7L886.5 401.0L884.5 400.5L882.5 399.9L880.5 399.3L878.6 398.8L876.9 398.3L875.4 397.9L874.1 397.5L873.1 397.2Z" fill="url(#gBrown7)" stroke="none" stroke-width="0" stroke-linejoin="round"/>
<path d="M873.1 397.2L874.1 397.5L875.4 397.9L876.9 398.3L878.6 398.8L880.5 399.3L882.5 399.9L884.5 400.5L886.5 401.0L888.4 401.7L890.2 402.5L891.8 403.2L893.5 404.0L895.1 404.7L896.7 405.5L898.4 406.3L900.1 407.1L901.8 407.9L903.5 408.8L905.3 409.7L907.2 410.8L909.3 411.9L911.7 413.1L914.2 414.4L916.7 415.8L919.3 417.3L921.7 418.7L924.0 420.0L926.1 421.2L927.8 422.2L929.1 422.9" fill="none" stroke="#5a3e30" stroke-width="1.4" stroke-linecap="round" opacity="0.8"/>
<path d="M864.6 397.4L864.1 397.6L863.4 397.8L862.7 398.1L861.9 398.5L861.0 398.8L860.0 399.2L859.0 399.7L857.9 400.1L856.8 400.5L855.7 401.0L854.4 401.4L853.0 402.0L851.5 402.7L850.1 399.8L844.0 411.2L856.7 413.3L855.3 410.4L856.8 409.6L858.1 408.8L859.3 408.0L860.4 407.4L861.4 406.7L862.4 406.0L863.3 405.4L864.2 404.8L865.0 404.3L865.8 403.8L866.4 403.3L867.0 403.0L867.4 402.6Z" fill="#85604e" stroke="none" stroke-width="0" stroke-linejoin="round"/>
<path d="M867.4 402.6L867.0 403.0L866.4 403.3L865.8 403.8L865.0 404.3L864.2 404.8L863.3 405.4L862.4 406.0L861.4 406.7L860.4 407.4L859.3 408.0L858.1 408.8L856.8 409.6" fill="none" stroke="#5a3e30" stroke-width="1.4" stroke-linecap="round" opacity="0.8"/>
<path d="M814.0 351.4L814.1 352.0L814.2 352.8L814.4 353.7L814.5 354.8L814.7 356.0L815.0 357.2L815.2 358.5L815.5 359.8L815.8 361.1L816.2 362.4L816.5 363.4L816.8 364.5L817.1 365.6L817.5 366.8L817.9 367.9L818.4 369.2L819.0 370.4L819.6 371.7L820.4 373.1L821.2 374.4L822.2 375.7L823.2 377.0L824.3 378.2L825.5 379.5L826.7 380.6L828.0 381.8L829.4 383.0L830.7 384.1L832.1 385.2L833.5 386.3L835.0 387.4L836.6 388.4L838.3 389.4L840.1 390.3L841.9 391.2L843.6 392.1L845.4 392.9L847.1 393.7L848.7 394.4L850.2 395.0L851.8 395.6L853.3 396.1L854.8 396.4L856.3 396.7L857.6 397.0L858.9 397.2L860.0 397.3L861.0 397.5L861.9 397.6L862.5 397.7L863.5 394.3L862.8 394.0L862.0 393.7L861.0 393.4L860.0 393.0L858.9 392.6L857.7 392.1L856.5 391.5L855.3 390.9L854.1 390.3L853.0 389.6L851.8 388.7L850.5 387.8L849.1 386.7L847.7 385.6L846.3 384.5L844.8 383.3L843.4 382.1L842.1 380.9L840.7 379.7L839.5 378.7L838.2 377.7L837.0 376.6L835.8 375.6L834.6 374.5L833.5 373.4L832.5 372.4L831.5 371.4L830.5 370.4L829.6 369.5L828.8 368.6L828.1 367.8L827.5 367.0L826.9 366.2L826.4 365.3L826.0 364.5L825.6 363.6L825.1 362.6L824.7 361.7L824.3 360.6L823.8 359.6L823.4 358.7L823.0 357.7L822.6 356.6L822.3 355.4L821.9 354.3L821.6 353.2L821.3 352.2L821.0 351.2L820.8 350.4L820.6 349.8Z" fill="url(#gBrown1)" stroke="none" stroke-width="0" stroke-linejoin="round"/>
<path d="M820.6 349.8L820.8 350.4L821.0 351.2L821.3 352.2L821.6 353.2L821.9 354.3L822.3 355.4L822.6 356.6L823.0 357.7L823.4 358.7L823.8 359.6L824.3 360.6L824.7 361.7L825.1 362.6L825.6 363.6L826.0 364.5L826.4 365.3L826.9 366.2L827.5 367.0L828.1 367.8L828.8 368.6L829.6 369.5L830.5 370.4L831.5 371.4L832.5 372.4L833.5 373.4L834.6 374.5L835.8 375.6L837.0 376.6L838.2 377.7L839.5 378.7L840.7 379.7L842.1 380.9L843.4 382.1L844.8 383.3L846.3 384.5L847.7 385.6L849.1 386.7L850.5 387.8L851.8 388.7L853.0 389.6L854.1 390.3L855.3 390.9L856.5 391.5L857.7 392.1L858.9 392.6L860.0 393.0L861.0 393.4L862.0 393.7L862.8 394.0L863.5 394.3" fill="none" stroke="#6b4a3c" stroke-width="1.4" stroke-linecap="round" opacity="0.8"/>
<path d="M865.3 394.1L865.0 393.3L864.6 392.2L864.2 391.0L863.7 389.6L863.2 388.1L862.6 386.5L862.1 384.9L861.6 383.3L861.1 381.8L860.6 380.3L860.2 378.9L859.7 377.5L859.2 376.0L858.6 374.6L858.1 373.2L857.6 371.7L857.1 370.3L856.6 368.9L856.2 367.5L855.7 366.2L855.3 364.9L855.0 363.6L854.6 362.5L854.2 361.3L853.8 360.2L853.4 359.0L853.0 357.7L852.6 356.4L852.1 354.9L851.7 353.3L851.1 351.5L854.0 350.6L840.0 334.5L837.8 355.7L840.7 354.8L841.3 356.7L841.9 358.3L842.4 359.7L842.9 361.1L843.3 362.4L843.8 363.6L844.2 364.8L844.6 366.0L845.1 367.3L845.7 368.5L846.3 369.8L846.9 371.2L847.6 372.6L848.2 374.0L848.9 375.4L849.6 376.8L850.3 378.2L851.1 379.6L851.8 381.0L852.5 382.4L853.4 383.7L854.2 385.0L855.2 386.4L856.1 387.9L857.1 389.3L858.1 390.7L859.0 392.0L859.8 393.2L860.6 394.3L861.2 395.2L861.7 395.9Z" fill="url(#gSalmon2)" stroke="none" stroke-width="0" stroke-linejoin="round"/>
<path d="M861.7 395.9L861.2 395.2L860.6 394.3L859.8 393.2L859.0 392.0L858.1 390.7L857.1 389.3L856.1 387.9L855.2 386.4L854.2 385.0L853.4 383.7L852.5 382.4L851.8 381.0L851.1 379.6L850.3 378.2L849.6 376.8L848.9 375.4L848.2 374.0L847.6 372.6L846.9 371.2L846.3 369.8L845.7 368.5L845.1 367.3L844.6 366.0L844.2 364.8L843.8 363.6L843.3 362.4L842.9 361.1L842.4 359.7L841.9 358.3L841.3 356.7" fill="none" stroke="#8e5a44" stroke-width="1.4" stroke-linecap="round" opacity="0.8"/>
<path d="M872.6 396.4L874.3 395.8L876.5 395.1L879.1 394.3L882.0 393.4L885.1 392.3L888.4 391.3L891.8 390.2L895.2 389.1L898.4 388.0L901.5 386.9L904.5 385.7L907.7 384.4L911.1 383.0L914.5 381.6L917.8 380.2L921.0 378.8L923.9 377.6L926.6 376.5L928.8 375.5L930.5 374.8L926.5 366.2L924.8 367.0L922.7 368.1L920.1 369.4L917.3 370.8L914.2 372.4L911.0 374.0L907.7 375.6L904.5 377.2L901.4 378.7L898.5 380.1L895.7 381.6L892.7 383.1L889.5 384.7L886.4 386.2L883.3 387.8L880.3 389.2L877.6 390.6L875.1 391.8L873.1 392.8L871.4 393.6Z" fill="url(#gOrange5)" stroke="none" stroke-width="0" stroke-linejoin="round"/>
<path d="M871.4 393.6L873.1 392.8L875.1 391.8L877.6 390.6L880.3 389.2L883.3 387.8L886.4 386.2L889.5 384.7L892.7 383.1L895.7 381.6L898.5 380.1L901.4 378.7L904.5 377.2L907.7 375.6L911.0 374.0L914.2 372.4L917.3 370.8L920.1 369.4L922.7 368.1L924.8 367.0L926.5 366.2" fill="none" stroke="#8e5230" stroke-width="1.4" stroke-linecap="round" opacity="0.8"/>
<path d="M871.9 398.0L873.3 398.1L875.1 398.3L877.2 398.5L879.6 398.7L882.1 399.0L884.7 399.2L887.4 399.5L890.0 399.8L892.5 400.0L894.8 400.3L897.0 400.5L899.1 400.8L901.2 401.0L903.2 401.3L905.3 401.6L907.4 401.9L909.4 402.1L911.5 402.4L913.6 402.7L915.7 403.0L917.8 403.2L917.5 406.4L937.0 401.6L918.9 393.0L918.5 396.2L916.3 396.0L914.3 395.9L912.2 395.7L910.1 395.6L908.0 395.4L905.9 395.3L903.8 395.1L901.7 395.0L899.6 394.9L897.4 394.8L895.2 394.7L892.8 394.7L890.3 394.7L887.6 394.7L884.9 394.7L882.3 394.8L879.7 394.8L877.3 394.9L875.2 394.9L873.4 395.0L872.1 395.0Z" fill="url(#gSalmon6)" stroke="none" stroke-width="0" stroke-linejoin="round"/>
<path d="M872.1 395.0L873.4 395.0L875.2 394.9L877.3 394.9L879.7 394.8L882.3 394.8L884.9 394.7L887.6 394.7L890.3 394.7L892.8 394.7L895.2 394.7L897.4 394.8L899.6 394.9L901.7 395.0L903.8 395.1L905.9 395.3L908.0 395.4L910.1 395.6L912.2 395.7L914.3 395.9L916.3 396.0" fill="none" stroke="#9a5c3c" stroke-width="1.4" stroke-linecap="round" opacity="0.8"/>
<path d="M870.1 394.4L870.8 393.5L871.8 392.4L873.0 391.0L874.2 389.5L875.6 388.0L877.0 386.4L878.5 384.8L880.0 383.3L881.4 382.0L882.7 380.9L883.9 379.8L885.2 378.7L886.5 377.7L887.8 376.7L889.2 375.7L890.6 374.8L892.1 373.8L893.6 372.9L895.1 372.0L896.5 371.1L897.9 370.2L899.2 369.3L900.6 368.5L901.9 367.7L903.3 366.9L904.8 366.1L906.3 365.2L907.8 364.3L909.5 363.4L911.2 362.4L913.0 361.3L915.0 360.1L916.9 363.3L927.0 345.8L906.8 346.1L908.7 349.3L906.6 350.5L904.8 351.6L903.2 352.6L901.6 353.5L900.1 354.3L898.6 355.2L897.1 356.1L895.6 356.9L894.0 357.9L892.5 358.8L891.0 359.8L889.5 360.9L888.0 362.1L886.6 363.3L885.2 364.5L883.7 365.7L882.3 367.0L880.8 368.3L879.4 369.7L878.0 371.1L876.7 372.6L875.3 374.1L874.1 375.9L872.9 377.9L871.8 379.9L870.7 381.9L869.6 384.0L868.7 385.9L867.8 387.7L867.1 389.3L866.4 390.6L865.9 391.6Z" fill="url(#gBrown4)" stroke="none" stroke-width="0" stroke-linejoin="round"/>
<path d="M865.9 391.6L866.4 390.6L867.1 389.3L867.8 387.7L868.7 385.9L869.6 384.0L870.7 381.9L871.8 379.9L872.9 377.9L874.1 375.9L875.3 374.1L876.7 372.6L878.0 371.1L879.4 369.7L880.8 368.3L882.3 367.0L883.7 365.7L885.2 364.5L886.6 363.3L888.0 362.1L889.5 360.9L891.0 359.8L892.5 358.8L894.0 357.9L895.6 356.9L897.1 356.1L898.6 355.2L900.1 354.3L901.6 353.5L903.2 352.6L904.8 351.6L906.6 350.5" fill="none" stroke="#5e4032" stroke-width="1.4" stroke-linecap="round" opacity="0.8"/>
<path d="M868.5 398.6L868.4 397.9L868.2 397.1L868.0 396.1L867.8 394.9L867.6 393.7L867.4 392.5L867.2 391.2L867.0 390.0L866.8 388.9L866.7 387.8L866.6 386.9L866.6 385.9L866.6 385.0L866.6 384.1L866.7 383.2L866.7 382.3L866.8 381.3L866.9 380.3L867.0 379.3L867.1 378.2L867.2 377.1L867.4 375.9L867.5 374.7L867.8 373.4L868.0 372.2L868.2 370.9L868.5 369.5L868.7 368.2L869.0 366.8L869.3 365.4L869.6 364.0L869.9 362.6L870.1 361.1L870.4 359.5L870.7 358.0L871.0 356.4L871.3 354.9L871.6 353.4L871.9 352.0L872.2 350.6L872.4 349.3L872.7 348.0L873.0 346.8L873.2 345.6L873.5 344.4L873.7 343.3L873.9 342.2L874.2 341.1L874.5 339.9L874.7 338.8L875.0 337.6L875.2 336.3L875.5 334.9L875.8 333.5L876.1 332.1L876.4 330.8L876.6 329.6L876.9 328.5L877.1 327.6L877.2 326.9L869.2 325.1L869.0 325.8L868.8 326.7L868.6 327.8L868.3 329.0L868.0 330.4L867.7 331.7L867.3 333.1L867.0 334.6L866.7 335.9L866.5 337.2L866.3 338.4L866.1 339.6L866.0 340.8L865.9 342.0L865.7 343.2L865.6 344.4L865.5 345.6L865.3 346.8L865.2 348.1L865.0 349.4L864.9 350.8L864.7 352.3L864.5 353.8L864.2 355.3L864.0 356.9L863.8 358.5L863.6 360.0L863.4 361.6L863.3 363.1L863.1 364.6L863.0 366.0L862.9 367.4L862.8 368.8L862.6 370.1L862.5 371.5L862.4 372.8L862.4 374.1L862.3 375.4L862.2 376.6L862.1 377.8L862.0 378.9L862.0 380.0L861.9 381.1L861.9 382.1L861.9 383.1L861.9 384.1L861.9 385.0L862.0 386.1L862.0 387.1L862.1 388.2L862.2 389.3L862.3 390.6L862.4 391.9L862.6 393.2L862.8 394.5L863.0 395.7L863.2 396.9L863.3 397.9L863.4 398.7L863.5 399.4Z" fill="url(#gSalmon3)" stroke="none" stroke-width="0" stroke-linejoin="round"/>
<path d="M863.5 399.4L863.4 398.7L863.3 397.9L863.2 396.9L863.0 395.7L862.8 394.5L862.6 393.2L862.4 391.9L862.3 390.6L862.2 389.3L862.1 388.2L862.0 387.1L862.0 386.1L861.9 385.0L861.9 384.1L861.9 383.1L861.9 382.1L861.9 381.1L862.0 380.0L862.0 378.9L862.1 377.8L862.2 376.6L862.3 375.4L862.4 374.1L862.4 372.8L862.5 371.5L862.6 370.1L862.8 368.8L862.9 367.4L863.0 366.0L863.1 364.6L863.3 363.1L863.4 361.6L863.6 360.0L863.8 358.5L864.0 356.9L864.2 355.3L864.5 353.8L864.7 352.3L864.9 350.8L865.0 349.4L865.2 348.1L865.3 346.8L865.5 345.6L865.6 344.4L865.7 343.2L865.9 342.0L866.0 340.8L866.1 339.6L866.3 338.4L866.5 337.2L866.7 335.9L867.0 334.6L867.3 333.1L867.7 331.7L868.0 330.4L868.3 329.0L868.6 327.8L868.8 326.7L869.0 325.8L869.2 325.1" fill="none" stroke="#8a5640" stroke-width="1.4" stroke-linecap="round" opacity="0.8"/>
<path d="M873.0 327.0C873.4 325.7 874.6 321.2 875.5 319.0C876.4 316.8 876.9 314.7 878.5 313.5C880.1 312.3 882.6 312.0 885.0 312.0C887.4 312.0 890.8 312.6 893.0 313.5C895.2 314.4 897.8 316.1 898.5 317.5C899.2 318.9 898.0 320.7 897.0 322.0C896.0 323.3 893.2 324.9 892.5 325.5" fill="none" stroke="#15286e" stroke-width="6.2" stroke-linecap="butt" stroke-linejoin="round"/>
<path d="M873.0 327.0C873.4 325.7 874.6 321.2 875.5 319.0C876.4 316.8 876.9 314.7 878.5 313.5C880.1 312.3 882.6 312.0 885.0 312.0C887.4 312.0 890.8 312.6 893.0 313.5C895.2 314.4 897.8 316.1 898.5 317.5C899.2 318.9 898.0 320.7 897.0 322.0C896.0 323.3 893.2 324.9 892.5 325.5" fill="none" stroke="#2446b8" stroke-width="4.9" stroke-linecap="butt" stroke-linejoin="round" transform="translate(-0.3 -0.4)"/>
<path d="M873.0 327.0C873.4 325.7 874.6 321.2 875.5 319.0C876.4 316.8 876.9 314.7 878.5 313.5C880.1 312.3 882.6 312.0 885.0 312.0C887.4 312.0 890.8 312.6 893.0 313.5C895.2 314.4 897.8 316.1 898.5 317.5C899.2 318.9 898.0 320.7 897.0 322.0C896.0 323.3 893.2 324.9 892.5 325.5" fill="none" stroke="#4a78e4" stroke-width="1.9" stroke-linecap="round" stroke-linejoin="round" opacity="0.75" transform="translate(-0.5 -0.6)"/>
<ellipse cx="866.3" cy="397.3" rx="4.6" ry="5.6" fill="#b98878"/>
<path d="M844.2 411.0C842.2 413.6 835.2 421.8 832.0 426.5C828.8 431.2 826.7 436.0 825.2 439.5C823.8 443.0 823.3 445.2 823.3 447.5C823.3 449.8 824.3 451.8 825.4 453.5C826.5 455.2 828.2 456.4 830.0 457.5C831.8 458.6 835.0 459.8 836.0 460.3" fill="none" stroke="#8f6d0a" stroke-width="4.3" stroke-linecap="round" stroke-linejoin="round"/>
<path d="M844.2 411.0C842.2 413.6 835.2 421.8 832.0 426.5C828.8 431.2 826.7 436.0 825.2 439.5C823.8 443.0 823.3 445.2 823.3 447.5C823.3 449.8 824.3 451.8 825.4 453.5C826.5 455.2 828.2 456.4 830.0 457.5C831.8 458.6 835.0 459.8 836.0 460.3" fill="none" stroke="#cfa116" stroke-width="3.0" stroke-linecap="round" stroke-linejoin="round" transform="translate(-0.3 -0.4)"/>
<path d="M844.2 411.0C842.2 413.6 835.2 421.8 832.0 426.5C828.8 431.2 826.7 436.0 825.2 439.5C823.8 443.0 823.3 445.2 823.3 447.5C823.3 449.8 824.3 451.8 825.4 453.5C826.5 455.2 828.2 456.4 830.0 457.5C831.8 458.6 835.0 459.8 836.0 460.3" fill="none" stroke="#f2d662" stroke-width="1.3" stroke-linecap="round" stroke-linejoin="round" opacity="0.75" transform="translate(-0.5 -0.6)"/>
<path d="M819.0 463.5C817.2 462.4 811.8 458.4 808.0 457.0C804.2 455.6 799.5 454.8 796.0 455.3C792.5 455.8 788.9 457.9 787.0 460.0C785.1 462.1 784.3 465.3 784.6 468.0C784.9 470.7 786.4 474.2 789.0 476.0C791.6 477.8 796.2 478.6 800.0 479.0C803.8 479.4 808.8 478.7 812.0 478.3C815.2 477.9 817.8 476.8 819.0 476.5" fill="none" stroke="#5e3382" stroke-width="5.4" stroke-linecap="round" stroke-linejoin="round"/>
<path d="M819.0 463.5C817.2 462.4 811.8 458.4 808.0 457.0C804.2 455.6 799.5 454.8 796.0 455.3C792.5 455.8 788.9 457.9 787.0 460.0C785.1 462.1 784.3 465.3 784.6 468.0C784.9 470.7 786.4 474.2 789.0 476.0C791.6 477.8 796.2 478.6 800.0 479.0C803.8 479.4 808.8 478.7 812.0 478.3C815.2 477.9 817.8 476.8 819.0 476.5" fill="none" stroke="#8446a4" stroke-width="4.1" stroke-linecap="round" stroke-linejoin="round" transform="translate(-0.3 -0.4)"/>
<path d="M819.0 463.5C817.2 462.4 811.8 458.4 808.0 457.0C804.2 455.6 799.5 454.8 796.0 455.3C792.5 455.8 788.9 457.9 787.0 460.0C785.1 462.1 784.3 465.3 784.6 468.0C784.9 470.7 786.4 474.2 789.0 476.0C791.6 477.8 796.2 478.6 800.0 479.0C803.8 479.4 808.8 478.7 812.0 478.3C815.2 477.9 817.8 476.8 819.0 476.5" fill="none" stroke="#c08ae0" stroke-width="1.6" stroke-linecap="round" stroke-linejoin="round" opacity="0.75" transform="translate(-0.5 -0.6)"/>
<path d="M818.8 479.5L819.6 479.4L820.6 479.3L821.8 479.1L823.2 478.9L824.7 478.7L826.2 478.4L827.8 478.1L829.4 477.8L831.0 477.5L832.5 477.1L834.0 476.7L835.6 476.1L837.2 475.6L838.8 474.9L840.4 474.3L841.9 473.7L843.4 473.2L844.6 472.7L845.7 472.2L846.5 471.9L845.5 469.1L844.7 469.3L843.6 469.7L842.3 470.0L840.8 470.5L839.3 470.9L837.7 471.4L836.0 471.9L834.4 472.3L832.9 472.6L831.5 472.9L830.2 473.1L828.7 473.3L827.2 473.5L825.6 473.6L824.1 473.7L822.6 473.8L821.3 473.9L820.1 473.9L819.0 474.0L818.2 474.1Z" fill="#a57863" stroke="none" stroke-width="0" stroke-linejoin="round"/>
<path d="M818.2 474.1L819.0 474.0L820.1 473.9L821.3 473.9L822.6 473.8L824.1 473.7L825.6 473.6L827.2 473.5L828.7 473.3L830.2 473.1L831.5 472.9L832.9 472.6L834.4 472.3L836.0 471.9L837.7 471.4L839.3 470.9L840.8 470.5L842.3 470.0L843.6 469.7L844.7 469.3L845.5 469.1" fill="none" stroke="#6b4a3c" stroke-width="1.4" stroke-linecap="round" opacity="0.8"/>
<path d="M818.1 463.9L818.9 464.2L819.9 464.5L821.1 464.9L822.4 465.3L823.8 465.7L825.3 466.2L826.9 466.8L828.4 467.3L829.9 467.9L831.3 468.4L832.7 469.1L834.2 469.8L835.9 470.7L837.6 471.6L839.3 472.5L840.9 473.3L842.4 474.1L843.8 474.9L844.9 475.5L845.8 476.0L848.2 471.0L847.3 470.6L846.1 470.1L844.7 469.5L843.1 468.8L841.4 468.0L839.6 467.3L837.8 466.5L836.0 465.8L834.3 465.1L832.7 464.6L831.2 464.1L829.6 463.6L828.0 463.2L826.3 462.8L824.8 462.4L823.3 462.0L821.9 461.7L820.7 461.5L819.7 461.2L818.9 461.1Z" fill="#b58a72" stroke="none" stroke-width="0" stroke-linejoin="round"/>
<path d="M818.9 461.1L819.7 461.2L820.7 461.5L821.9 461.7L823.3 462.0L824.8 462.4L826.3 462.8L828.0 463.2L829.6 463.6L831.2 464.1L832.7 464.6L834.3 465.1L836.0 465.8L837.8 466.5L839.6 467.3L841.4 468.0L843.1 468.8L844.7 469.5L846.1 470.1L847.3 470.6L848.2 471.0" fill="none" stroke="#6b4a3c" stroke-width="1.4" stroke-linecap="round" opacity="0.8"/>
<path d="M876.5 464.1L875.9 464.3L875.1 464.5L874.1 464.7L873.0 465.0L871.8 465.3L870.6 465.7L869.3 466.0L868.0 466.4L866.8 466.7L865.6 467.1L864.5 467.5L863.3 467.9L862.0 468.3L860.8 468.8L859.5 469.3L858.4 469.7L857.3 470.1L856.3 470.5L855.5 470.8L854.9 471.0L855.1 472.2L855.8 472.1L856.7 472.0L857.7 471.9L858.9 471.7L860.1 471.6L861.4 471.4L862.7 471.3L864.0 471.1L865.2 471.0L866.4 470.9L867.5 470.8L868.7 470.8L870.0 470.7L871.3 470.7L872.6 470.6L873.8 470.6L874.9 470.6L875.9 470.6L876.8 470.5L877.5 470.5Z" fill="#d99a70" stroke="none" stroke-width="0" stroke-linejoin="round"/>
<path d="M876.0 467.0C878.7 465.9 886.7 462.2 892.0 460.5C897.3 458.8 902.7 457.8 908.0 457.0C913.3 456.2 918.5 455.9 924.0 456.0C929.5 456.1 938.2 457.3 941.0 457.6" fill="none" stroke="#2c7a3e" stroke-width="4.0" stroke-linecap="round" stroke-linejoin="round"/>
<path d="M876.0 467.0C878.7 465.9 886.7 462.2 892.0 460.5C897.3 458.8 902.7 457.8 908.0 457.0C913.3 456.2 918.5 455.9 924.0 456.0C929.5 456.1 938.2 457.3 941.0 457.6" fill="none" stroke="#42a055" stroke-width="2.7" stroke-linecap="round" stroke-linejoin="round" transform="translate(-0.3 -0.4)"/>
<path d="M876.0 467.0C878.7 465.9 886.7 462.2 892.0 460.5C897.3 458.8 902.7 457.8 908.0 457.0C913.3 456.2 918.5 455.9 924.0 456.0C929.5 456.1 938.2 457.3 941.0 457.6" fill="none" stroke="#8fd49a" stroke-width="1.2" stroke-linecap="round" stroke-linejoin="round" opacity="0.75" transform="translate(-0.5 -0.6)"/>
<path d="M928.5 426.5C929.8 427.1 933.6 428.1 936.0 430.0C938.4 431.9 941.2 434.8 943.0 438.0C944.8 441.2 947.0 446.0 946.8 449.5C946.5 453.0 944.0 457.1 941.5 459.2C939.0 461.3 934.8 462.0 932.0 461.9C929.2 461.8 926.5 459.8 924.5 458.6C922.5 457.4 920.8 455.2 920.0 454.5" fill="none" stroke="#861219" stroke-width="4.4" stroke-linecap="round" stroke-linejoin="round"/>
<path d="M928.5 426.5C929.8 427.1 933.6 428.1 936.0 430.0C938.4 431.9 941.2 434.8 943.0 438.0C944.8 441.2 947.0 446.0 946.8 449.5C946.5 453.0 944.0 457.1 941.5 459.2C939.0 461.3 934.8 462.0 932.0 461.9C929.2 461.8 926.5 459.8 924.5 458.6C922.5 457.4 920.8 455.2 920.0 454.5" fill="none" stroke="#c0222c" stroke-width="3.1" stroke-linecap="round" stroke-linejoin="round" transform="translate(-0.3 -0.4)"/>
<path d="M928.5 426.5C929.8 427.1 933.6 428.1 936.0 430.0C938.4 431.9 941.2 434.8 943.0 438.0C944.8 441.2 947.0 446.0 946.8 449.5C946.5 453.0 944.0 457.1 941.5 459.2C939.0 461.3 934.8 462.0 932.0 461.9C929.2 461.8 926.5 459.8 924.5 458.6C922.5 457.4 920.8 455.2 920.0 454.5" fill="none" stroke="#e86a70" stroke-width="1.3" stroke-linecap="round" stroke-linejoin="round" opacity="0.75" transform="translate(-0.5 -0.6)"/>
<path d="M889.0 479.0C890.8 478.4 896.2 475.6 900.0 475.3C903.8 475.0 908.3 475.7 912.0 477.0C915.7 478.3 919.3 480.5 922.0 483.0C924.7 485.5 927.2 489.2 928.0 492.0C928.8 494.8 928.3 497.8 927.0 500.0C925.7 502.2 923.5 503.6 920.0 505.5C916.5 507.4 910.7 509.9 906.0 511.5C901.3 513.1 895.3 514.6 892.0 515.0C888.7 515.4 887.0 514.2 886.0 514.0" fill="none" stroke="#5e3382" stroke-width="5.4" stroke-linecap="round" stroke-linejoin="round"/>
<path d="M889.0 479.0C890.8 478.4 896.2 475.6 900.0 475.3C903.8 475.0 908.3 475.7 912.0 477.0C915.7 478.3 919.3 480.5 922.0 483.0C924.7 485.5 927.2 489.2 928.0 492.0C928.8 494.8 928.3 497.8 927.0 500.0C925.7 502.2 923.5 503.6 920.0 505.5C916.5 507.4 910.7 509.9 906.0 511.5C901.3 513.1 895.3 514.6 892.0 515.0C888.7 515.4 887.0 514.2 886.0 514.0" fill="none" stroke="#8446a4" stroke-width="4.1" stroke-linecap="round" stroke-linejoin="round" transform="translate(-0.3 -0.4)"/>
<path d="M889.0 479.0C890.8 478.4 896.2 475.6 900.0 475.3C903.8 475.0 908.3 475.7 912.0 477.0C915.7 478.3 919.3 480.5 922.0 483.0C924.7 485.5 927.2 489.2 928.0 492.0C928.8 494.8 928.3 497.8 927.0 500.0C925.7 502.2 923.5 503.6 920.0 505.5C916.5 507.4 910.7 509.9 906.0 511.5C901.3 513.1 895.3 514.6 892.0 515.0C888.7 515.4 887.0 514.2 886.0 514.0" fill="none" stroke="#c08ae0" stroke-width="1.6" stroke-linecap="round" stroke-linejoin="round" opacity="0.75" transform="translate(-0.5 -0.6)"/>
<path d="M947.8 555.4C948.5 556.5 950.1 559.2 952.0 562.0C953.9 564.8 957.8 570.3 959.0 572.0" fill="none" stroke="#5e3382" stroke-width="5.0" stroke-linecap="round" stroke-linejoin="round"/>
<path d="M947.8 555.4C948.5 556.5 950.1 559.2 952.0 562.0C953.9 564.8 957.8 570.3 959.0 572.0" fill="none" stroke="#8446a4" stroke-width="3.7" stroke-linecap="round" stroke-linejoin="round" transform="translate(-0.3 -0.4)"/>
<path d="M991.0 540.6C991.5 541.7 993.2 544.9 994.0 547.0C994.8 549.1 995.7 552.4 996.0 553.5" fill="none" stroke="#5e3382" stroke-width="5.0" stroke-linecap="round" stroke-linejoin="round"/>
<path d="M991.0 540.6C991.5 541.7 993.2 544.9 994.0 547.0C994.8 549.1 995.7 552.4 996.0 553.5" fill="none" stroke="#8446a4" stroke-width="3.7" stroke-linecap="round" stroke-linejoin="round" transform="translate(-0.3 -0.4)"/>
<path d="M890.8 517.5 C889.7 502.3 897.5 513.0 900.0 485.0" fill="none" stroke="#16296f" stroke-width="8.5" stroke-linecap="round"/>
<path d="M890.8 517.5 C889.7 502.3 897.5 513.0 900.0 485.0" fill="none" stroke="url(#ga4)" stroke-width="6.7" stroke-linecap="round" transform="translate(-0.3 -0.7)"/>
<path d="M776.5 556.5 C779.0 532.8 804.6 535.4 806.7 548.4" fill="none" stroke="#16296f" stroke-width="10.5" stroke-linecap="round"/>
<path d="M776.5 556.5 C779.0 532.8 804.6 535.4 806.7 548.4" fill="none" stroke="url(#ga5)" stroke-width="8.7" stroke-linecap="round" transform="translate(-0.3 -0.7)"/>
<path d="M777.0 554.5 Q779.0 538.1 791.5 538.9" fill="none" stroke="#5f8cf5" stroke-width="2.6" stroke-linecap="round" opacity="0.55" transform="translate(-1.2 -1.2)"/>
<path d="M802.9 539.2 C803.9 526.4 824.1 526.4 826.6 539.2" fill="none" stroke="#16296f" stroke-width="10.5" stroke-linecap="round"/>
<path d="M802.9 539.2 C803.9 526.4 824.1 526.4 826.6 539.2" fill="none" stroke="url(#ga6)" stroke-width="8.7" stroke-linecap="round" transform="translate(-0.3 -0.7)"/>
<path d="M803.4 537.2 Q803.9 529.3 808.3 529.8" fill="none" stroke="#5f8cf5" stroke-width="2.6" stroke-linecap="round" opacity="0.55" transform="translate(-1.2 -1.2)"/>
<path d="M818.9 525.5 C820.1 512.5 839.6 512.0 841.9 527.0" fill="none" stroke="#16296f" stroke-width="10.5" stroke-linecap="round"/>
<path d="M818.9 525.5 C820.1 512.5 839.6 512.0 841.9 527.0" fill="none" stroke="url(#ga7)" stroke-width="8.7" stroke-linecap="round" transform="translate(-0.3 -0.7)"/>
<path d="M819.4 523.5 Q820.1 515.5 825.1 516.0" fill="none" stroke="#5f8cf5" stroke-width="2.6" stroke-linecap="round" opacity="0.55" transform="translate(-1.2 -1.2)"/>
<path d="M832.7 514.8 C834.1 500.8 853.5 498.8 855.6 520.9" fill="none" stroke="#16296f" stroke-width="10.5" stroke-linecap="round"/>
<path d="M832.7 514.8 C834.1 500.8 853.5 498.8 855.6 520.9" fill="none" stroke="url(#ga8)" stroke-width="8.7" stroke-linecap="round" transform="translate(-0.3 -0.7)"/>
<path d="M833.2 512.8 Q834.1 503.9 840.4 504.6" fill="none" stroke="#5f8cf5" stroke-width="2.6" stroke-linecap="round" opacity="0.55" transform="translate(-1.2 -1.2)"/>
<path d="M846.5 505.6 C848.6 493.7 871.9 492.7 874.0 508.6" fill="none" stroke="#16296f" stroke-width="10.5" stroke-linecap="round"/>
<path d="M846.5 505.6 C848.6 493.7 871.9 492.7 874.0 508.6" fill="none" stroke="url(#ga9)" stroke-width="8.7" stroke-linecap="round" transform="translate(-0.3 -0.7)"/>
<path d="M847.0 503.6 Q848.6 496.4 858.7 497.0" fill="none" stroke="#5f8cf5" stroke-width="2.6" stroke-linecap="round" opacity="0.55" transform="translate(-1.2 -1.2)"/>
<path d="M867.9 494.9 C870.2 483.0 890.9 484.3 892.3 491.0" fill="none" stroke="#16296f" stroke-width="10.5" stroke-linecap="round"/>
<path d="M867.9 494.9 C870.2 483.0 890.9 484.3 892.3 491.0" fill="none" stroke="url(#ga10)" stroke-width="8.7" stroke-linecap="round" transform="translate(-0.3 -0.7)"/>
<path d="M868.4 492.9 Q870.2 485.7 881.6 486.2" fill="none" stroke="#5f8cf5" stroke-width="2.6" stroke-linecap="round" opacity="0.55" transform="translate(-1.2 -1.2)"/>
<path d="M794.0 567.0 L807.3 563.7 Q813.0 561.3 816.1 566.3 L823.5 575.5" fill="none" stroke="#16296f" stroke-width="10.0" stroke-linecap="butt"/>
<path d="M794.0 567.0 L807.3 563.7 Q813.0 561.3 816.1 566.3 L823.5 575.5" fill="none" stroke="url(#ga11)" stroke-width="8.2" stroke-linecap="butt" transform="translate(-0.3 -0.7)"/>
<path d="M800.0 567.0 L810.4 564.4" fill="none" stroke="#5f8cf5" stroke-width="2.5" stroke-linecap="round" opacity="0.55" transform="translate(-1.2 -1.2)"/>
<path d="M822.9 575.0 L829.6 558.3 Q832.5 550.1 836.8 557.8 L846.9 573.5" fill="none" stroke="#16296f" stroke-width="10.0" stroke-linecap="butt"/>
<path d="M822.9 575.0 L829.6 558.3 Q832.5 550.1 836.8 557.8 L846.9 573.5" fill="none" stroke="url(#ga12)" stroke-width="8.2" stroke-linecap="butt" transform="translate(-0.3 -0.7)"/>
<path d="M826.5 570.2 L831.8 557.1" fill="none" stroke="#5f8cf5" stroke-width="2.5" stroke-linecap="round" opacity="0.55" transform="translate(-1.2 -1.2)"/>
<path d="M859.0 566.0 L866.7 562.0 Q870.0 559.3 872.1 562.6 L877.0 568.0" fill="none" stroke="#16296f" stroke-width="10.0" stroke-linecap="butt"/>
<path d="M859.0 566.0 L866.7 562.0 Q870.0 559.3 872.1 562.6 L877.0 568.0" fill="none" stroke="url(#ga13)" stroke-width="8.2" stroke-linecap="butt" transform="translate(-0.3 -0.7)"/>
<path d="M863.0 565.8 L869.0 562.6" fill="none" stroke="#5f8cf5" stroke-width="2.5" stroke-linecap="round" opacity="0.55" transform="translate(-1.2 -1.2)"/>
<path d="M848.0 565.5 L860.4 548.4 Q865.7 540.1 868.8 549.9 L876.0 570.3" fill="none" stroke="#16296f" stroke-width="10.0" stroke-linecap="butt"/>
<path d="M848.0 565.5 L860.4 548.4 Q865.7 540.1 868.8 549.9 L876.0 570.3" fill="none" stroke="url(#ga14)" stroke-width="8.2" stroke-linecap="butt" transform="translate(-0.3 -0.7)"/>
<path d="M853.6 560.6 L863.4 547.2" fill="none" stroke="#5f8cf5" stroke-width="2.5" stroke-linecap="round" opacity="0.55" transform="translate(-1.2 -1.2)"/>
<path d="M882.0 560.0 C883.6 544.8 900.6 544.5 902.0 561.0" fill="none" stroke="#16296f" stroke-width="9.0" stroke-linecap="round"/>
<path d="M882.0 560.0 C883.6 544.8 900.6 544.5 902.0 561.0" fill="none" stroke="url(#ga15)" stroke-width="7.2" stroke-linecap="round" transform="translate(-0.3 -0.7)"/>
<path d="M882.5 558.0 Q883.6 548.3 891.5 548.9" fill="none" stroke="#5f8cf5" stroke-width="2.2" stroke-linecap="round" opacity="0.55" transform="translate(-1.2 -1.2)"/>
<path d="M900.5 560.0 C901.9 539.8 918.5 539.3 920.0 561.5" fill="none" stroke="#16296f" stroke-width="9.0" stroke-linecap="round"/>
<path d="M900.5 560.0 C901.9 539.8 918.5 539.3 920.0 561.5" fill="none" stroke="url(#ga16)" stroke-width="7.2" stroke-linecap="round" transform="translate(-0.3 -0.7)"/>
<path d="M901.0 558.0 Q901.9 544.3 908.5 545.1" fill="none" stroke="#5f8cf5" stroke-width="2.2" stroke-linecap="round" opacity="0.55" transform="translate(-1.2 -1.2)"/>
<path d="M920.0 553.5 C921.4 531.2 940.0 531.0 942.0 554.0" fill="none" stroke="#16296f" stroke-width="9.0" stroke-linecap="round"/>
<path d="M920.0 553.5 C921.4 531.2 940.0 531.0 942.0 554.0" fill="none" stroke="url(#ga17)" stroke-width="7.2" stroke-linecap="round" transform="translate(-0.3 -0.7)"/>
<path d="M920.5 551.5 Q921.4 536.2 927.5 537.0" fill="none" stroke="#5f8cf5" stroke-width="2.2" stroke-linecap="round" opacity="0.55" transform="translate(-1.2 -1.2)"/>
<path d="M938.0 551.0 C939.5 538.8 954.8 539.3 956.0 549.5" fill="none" stroke="#16296f" stroke-width="9.0" stroke-linecap="round"/>
<path d="M938.0 551.0 C939.5 538.8 954.8 539.3 956.0 549.5" fill="none" stroke="url(#ga18)" stroke-width="7.2" stroke-linecap="round" transform="translate(-0.3 -0.7)"/>
<path d="M938.5 549.0 Q939.5 541.5 946.5 542.1" fill="none" stroke="#5f8cf5" stroke-width="2.2" stroke-linecap="round" opacity="0.55" transform="translate(-1.2 -1.2)"/>
<path d="M956.5 533.5 L957.5 546 L946 551" fill="none" stroke="#2a50c8" stroke-width="6.5" stroke-linejoin="round" stroke-linecap="round"/>
<path d="M817 615.5 L827.5 620" stroke="#16296f" stroke-width="6" fill="none"/>
<path d="M822.0 620.1 L832.8 607.2 Q837.4 600.7 842.3 605.8 L853.7 615.5" fill="none" stroke="#16296f" stroke-width="10.8" stroke-linecap="butt"/>
<path d="M822.0 620.1 L832.8 607.2 Q837.4 600.7 842.3 605.8 L853.7 615.5" fill="none" stroke="url(#ga19)" stroke-width="9.0" stroke-linecap="butt" transform="translate(-0.3 -0.7)"/>
<path d="M827.1 616.7 L835.5 606.6" fill="none" stroke="#5f8cf5" stroke-width="2.7" stroke-linecap="round" opacity="0.55" transform="translate(-1.2 -1.2)"/>
<path d="M852.5 615.0 L861.7 602.1 Q865.7 595.6 871.6 601.4 L885.4 612.6" fill="none" stroke="#16296f" stroke-width="10.8" stroke-linecap="butt"/>
<path d="M852.5 615.0 L861.7 602.1 Q865.7 595.6 871.6 601.4 L885.4 612.6" fill="none" stroke="url(#ga20)" stroke-width="9.0" stroke-linecap="butt" transform="translate(-0.3 -0.7)"/>
<path d="M857.0 611.6 L864.3 601.5" fill="none" stroke="#5f8cf5" stroke-width="2.7" stroke-linecap="round" opacity="0.55" transform="translate(-1.2 -1.2)"/>
<path d="M884.2 612.4 L894.1 600.1 Q898.3 593.9 899.6 594.8 L902.5 594.5" fill="none" stroke="#16296f" stroke-width="10.8" stroke-linecap="butt"/>
<path d="M884.2 612.4 L894.1 600.1 Q898.3 593.9 899.6 594.8 L902.5 594.5" fill="none" stroke="url(#ga21)" stroke-width="9.0" stroke-linecap="butt" transform="translate(-0.3 -0.7)"/>
<path d="M888.9 609.2 L896.7 599.6" fill="none" stroke="#5f8cf5" stroke-width="2.7" stroke-linecap="round" opacity="0.55" transform="translate(-1.2 -1.2)"/>
<path d="M821.3 600.5 L818.6 619.5" stroke="#c45fc8" stroke-width="3.6" stroke-linecap="round" fill="none"/>
<path d="M912.9 602.1 L928.4 594.6 Q935.1 590.4 937.9 592.8 L944.5 596.0" fill="none" stroke="#16296f" stroke-width="9.0" stroke-linecap="butt"/>
<path d="M912.9 602.1 L928.4 594.6 Q935.1 590.4 937.9 592.8 L944.5 596.0" fill="none" stroke="url(#ga22)" stroke-width="7.2" stroke-linecap="butt" transform="translate(-0.3 -0.7)"/>
<path d="M919.7 600.6 L931.9 594.7" fill="none" stroke="#5f8cf5" stroke-width="2.2" stroke-linecap="round" opacity="0.55" transform="translate(-1.2 -1.2)"/>
<path d="M963.0 573.0 L976.0 554.5" stroke="#192f85" stroke-width="8.4" stroke-linecap="round" fill="none"/>
<path d="M1003.0 568.5 L1000.5 555.0" stroke="#192f85" stroke-width="8.4" stroke-linecap="round" fill="none"/>
<path d="M976.0 554.5 L1003.0 568.5" stroke="#2a50c8" stroke-width="10.5" stroke-linecap="round" fill="none"/>
<path d="M976.0 554.5 L1003.0 568.5" stroke="#5f8cf5" stroke-width="3.1" stroke-linecap="round" fill="none" opacity="0.7" transform="translate(-0.8 -0.6)"/>
<path d="M996.0 594.5C997.5 594.2 1003.2 591.5 1005.0 592.6C1006.8 593.7 1007.0 598.4 1006.6 601.0C1006.2 603.6 1004.5 606.1 1002.4 608.3C1000.3 610.5 996.9 613.0 994.0 614.2C991.1 615.4 986.5 615.1 985.0 615.3" fill="none" stroke="#192f85" stroke-width="6.4" stroke-linecap="butt" stroke-linejoin="round"/>
<path d="M996.0 594.5C997.5 594.2 1003.2 591.5 1005.0 592.6C1006.8 593.7 1007.0 598.4 1006.6 601.0C1006.2 603.6 1004.5 606.1 1002.4 608.3C1000.3 610.5 996.9 613.0 994.0 614.2C991.1 615.4 986.5 615.1 985.0 615.3" fill="none" stroke="#2a50c8" stroke-width="5.1" stroke-linecap="butt" stroke-linejoin="round" transform="translate(-0.3 -0.4)"/>
<path d="M996.0 594.5C997.5 594.2 1003.2 591.5 1005.0 592.6C1006.8 593.7 1007.0 598.4 1006.6 601.0C1006.2 603.6 1004.5 606.1 1002.4 608.3C1000.3 610.5 996.9 613.0 994.0 614.2C991.1 615.4 986.5 615.1 985.0 615.3" fill="none" stroke="#5f8cf5" stroke-width="1.9" stroke-linecap="round" stroke-linejoin="round" opacity="0.75" transform="translate(-0.5 -0.6)"/>
<ellipse cx="983.8" cy="603.6" rx="11.8" ry="9.2" fill="#2c52de" stroke="#192f85" stroke-width="1.3" transform="rotate(-38 983.8 603.6)"/>
<ellipse cx="981.5" cy="602" rx="7" ry="4.5" fill="#5f8cf5" opacity="0.35" transform="rotate(-38 981.5 602)"/>
<path d="M985 595.5 Q992.5 601 990.5 610" fill="none" stroke="#192f85" stroke-width="1.6" stroke-linecap="round" opacity="0.85"/>
<path d="M990.5 615.0C989.1 616.5 984.7 621.1 982.0 623.8C979.3 626.5 977.6 628.8 974.3 631.0C971.0 633.2 964.0 636.2 962.0 637.3" fill="none" stroke="#192f85" stroke-width="6.4" stroke-linecap="butt" stroke-linejoin="round"/>
<path d="M990.5 615.0C989.1 616.5 984.7 621.1 982.0 623.8C979.3 626.5 977.6 628.8 974.3 631.0C971.0 633.2 964.0 636.2 962.0 637.3" fill="none" stroke="#2446b8" stroke-width="5.1" stroke-linecap="butt" stroke-linejoin="round" transform="translate(-0.3 -0.4)"/>
<ellipse cx="968.6" cy="618.2" rx="12.2" ry="9.4" fill="#2c52de" stroke="#192f85" stroke-width="1.3" transform="rotate(-38 968.6 618.2)"/>
<ellipse cx="966.3" cy="616.5" rx="7" ry="4.5" fill="#5f8cf5" opacity="0.35" transform="rotate(-38 966.3 616.5)"/>
<path d="M969.5 610 Q977.5 615.5 975.5 625" fill="none" stroke="#192f85" stroke-width="1.6" stroke-linecap="round" opacity="0.85"/>
<path d="M849.3 463.2L849.3 463.9L849.5 464.9L849.6 466.1L849.7 467.4L849.9 468.8L850.1 470.2L850.2 471.8L850.4 473.3L850.6 474.8L850.9 476.2L851.1 477.6L851.4 479.2L851.7 480.8L852.0 482.4L852.3 484.0L852.6 485.5L852.9 487.0L853.1 488.2L853.3 489.3L853.5 490.1L855.5 489.9L855.4 489.0L855.3 487.9L855.2 486.6L855.0 485.2L854.8 483.6L854.7 482.0L854.5 480.4L854.4 478.8L854.2 477.2L854.1 475.8L854.1 474.4L854.0 473.0L853.9 471.5L853.9 470.0L853.9 468.5L853.8 467.1L853.8 465.8L853.8 464.6L853.8 463.6L853.7 462.8Z" fill="#c29a94" stroke="none" stroke-width="0" stroke-linejoin="round"/>
<path d="M843.3 470.4L843.6 470.6L844.0 471.0L844.4 471.4L844.9 471.9L845.5 472.4L846.0 472.9L846.6 473.4L847.1 474.0L847.6 474.5L848.1 475.0L848.6 475.5L849.1 476.0L849.7 476.6L850.2 477.2L850.8 477.8L851.3 478.4L851.8 478.9L852.2 479.4L852.6 479.8L852.9 480.1L857.1 475.9L856.8 475.6L856.4 475.2L856.0 474.8L855.4 474.3L854.9 473.8L854.3 473.2L853.7 472.6L853.0 472.1L852.5 471.5L851.9 471.0L851.3 470.5L850.7 470.0L850.1 469.5L849.5 469.0L848.9 468.5L848.3 468.0L847.8 467.6L847.4 467.2L847.0 466.9L846.7 466.6Z" fill="#d9a2a0" stroke="none" stroke-width="0" stroke-linejoin="round"/>
<path d="M852.7 479.4L853.4 479.8L854.3 480.3L855.4 480.9L856.6 481.6L857.8 482.4L859.2 483.1L860.6 483.9L861.9 484.7L863.3 485.5L864.5 486.2L865.8 486.9L867.1 487.7L868.6 488.6L870.0 489.4L871.4 490.2L872.8 491.0L874.0 491.8L875.1 492.5L876.1 493.0L876.8 493.5L880.2 487.5L879.4 487.1L878.4 486.6L877.3 486.0L876.0 485.3L874.6 484.6L873.1 483.8L871.7 483.0L870.2 482.2L868.8 481.5L867.5 480.8L866.2 480.1L864.8 479.4L863.4 478.7L862.0 478.0L860.6 477.3L859.3 476.6L858.0 476.0L856.9 475.4L856.0 474.9L855.3 474.6Z" fill="#e1a06c" stroke="none" stroke-width="0" stroke-linejoin="round"/>
<path d="M855.3 474.6L856.0 474.9L856.9 475.4L858.0 476.0L859.3 476.6L860.6 477.3L862.0 478.0L863.4 478.7L864.8 479.4L866.2 480.1L867.5 480.8L868.8 481.5L870.2 482.2L871.7 483.0L873.1 483.8L874.6 484.6L876.0 485.3L877.3 486.0L878.4 486.6L879.4 487.1L880.2 487.5" fill="none" stroke="#9a6038" stroke-width="1.4" stroke-linecap="round" opacity="0.8"/>
<path d="M847.5 576.5C847.0 574.6 844.6 568.4 844.5 565.0C844.4 561.6 845.4 558.1 847.0 556.0C848.6 553.9 850.5 553.1 854.0 552.3C857.5 551.5 863.7 550.9 868.0 551.0C872.3 551.1 876.3 552.0 880.0 553.0C883.7 554.0 885.7 554.2 890.0 557.0C894.3 559.8 901.5 566.0 906.0 570.0C910.5 574.0 913.3 578.7 917.3 581.0C921.3 583.3 923.9 583.3 930.0 583.6C936.1 583.9 947.8 583.9 954.0 582.7C960.2 581.5 962.7 578.1 967.0 576.5C971.3 574.9 975.7 572.7 980.0 573.2C984.3 573.7 989.2 576.3 992.7 579.5C996.2 582.7 999.4 590.3 1000.8 592.5" fill="none" stroke="#5e3382" stroke-width="5.4" stroke-linecap="round" stroke-linejoin="round"/>
<path d="M847.5 576.5C847.0 574.6 844.6 568.4 844.5 565.0C844.4 561.6 845.4 558.1 847.0 556.0C848.6 553.9 850.5 553.1 854.0 552.3C857.5 551.5 863.7 550.9 868.0 551.0C872.3 551.1 876.3 552.0 880.0 553.0C883.7 554.0 885.7 554.2 890.0 557.0C894.3 559.8 901.5 566.0 906.0 570.0C910.5 574.0 913.3 578.7 917.3 581.0C921.3 583.3 923.9 583.3 930.0 583.6C936.1 583.9 947.8 583.9 954.0 582.7C960.2 581.5 962.7 578.1 967.0 576.5C971.3 574.9 975.7 572.7 980.0 573.2C984.3 573.7 989.2 576.3 992.7 579.5C996.2 582.7 999.4 590.3 1000.8 592.5" fill="none" stroke="#8446a4" stroke-width="4.1" stroke-linecap="round" stroke-linejoin="round" transform="translate(-0.3 -0.4)"/>
<path d="M847.5 576.5C847.0 574.6 844.6 568.4 844.5 565.0C844.4 561.6 845.4 558.1 847.0 556.0C848.6 553.9 850.5 553.1 854.0 552.3C857.5 551.5 863.7 550.9 868.0 551.0C872.3 551.1 876.3 552.0 880.0 553.0C883.7 554.0 885.7 554.2 890.0 557.0C894.3 559.8 901.5 566.0 906.0 570.0C910.5 574.0 913.3 578.7 917.3 581.0C921.3 583.3 923.9 583.3 930.0 583.6C936.1 583.9 947.8 583.9 954.0 582.7C960.2 581.5 962.7 578.1 967.0 576.5C971.3 574.9 975.7 572.7 980.0 573.2C984.3 573.7 989.2 576.3 992.7 579.5C996.2 582.7 999.4 590.3 1000.8 592.5" fill="none" stroke="#c08ae0" stroke-width="1.6" stroke-linecap="round" stroke-linejoin="round" opacity="0.75" transform="translate(-0.5 -0.6)"/>
<path d="M884.0 560.0C885.0 562.2 887.4 568.4 890.0 573.0C892.6 577.6 896.1 582.9 899.6 587.5C903.1 592.1 906.4 596.9 911.0 600.4C915.6 603.9 922.2 606.8 927.0 608.4C931.8 610.0 937.0 610.7 939.8 610.0C942.5 609.3 942.7 606.2 943.5 604.0C944.3 601.8 944.4 598.2 944.6 597.0" fill="none" stroke="#5e3382" stroke-width="5.4" stroke-linecap="round" stroke-linejoin="round"/>
<path d="M884.0 560.0C885.0 562.2 887.4 568.4 890.0 573.0C892.6 577.6 896.1 582.9 899.6 587.5C903.1 592.1 906.4 596.9 911.0 600.4C915.6 603.9 922.2 606.8 927.0 608.4C931.8 610.0 937.0 610.7 939.8 610.0C942.5 609.3 942.7 606.2 943.5 604.0C944.3 601.8 944.4 598.2 944.6 597.0" fill="none" stroke="#8446a4" stroke-width="4.1" stroke-linecap="round" stroke-linejoin="round" transform="translate(-0.3 -0.4)"/>
<path d="M884.0 560.0C885.0 562.2 887.4 568.4 890.0 573.0C892.6 577.6 896.1 582.9 899.6 587.5C903.1 592.1 906.4 596.9 911.0 600.4C915.6 603.9 922.2 606.8 927.0 608.4C931.8 610.0 937.0 610.7 939.8 610.0C942.5 609.3 942.7 606.2 943.5 604.0C944.3 601.8 944.4 598.2 944.6 597.0" fill="none" stroke="#c08ae0" stroke-width="1.6" stroke-linecap="round" stroke-linejoin="round" opacity="0.75" transform="translate(-0.5 -0.6)"/>
<path d="M768.6 530.0C769.7 530.2 773.3 530.0 775.0 531.0C776.7 532.0 777.8 533.8 778.7 536.0C779.6 538.2 779.9 541.0 780.3 544.0C780.7 547.0 781.1 552.3 781.2 554.0" fill="none" stroke="#5e3382" stroke-width="5.0" stroke-linecap="round" stroke-linejoin="round"/>
<path d="M768.6 530.0C769.7 530.2 773.3 530.0 775.0 531.0C776.7 532.0 777.8 533.8 778.7 536.0C779.6 538.2 779.9 541.0 780.3 544.0C780.7 547.0 781.1 552.3 781.2 554.0" fill="none" stroke="#8a4aa0" stroke-width="3.7" stroke-linecap="round" stroke-linejoin="round" transform="translate(-0.3 -0.4)"/>
<path d="M768.6 530.0C769.7 530.2 773.3 530.0 775.0 531.0C776.7 532.0 777.8 533.8 778.7 536.0C779.6 538.2 779.9 541.0 780.3 544.0C780.7 547.0 781.1 552.3 781.2 554.0" fill="none" stroke="#c08ae0" stroke-width="1.5" stroke-linecap="round" stroke-linejoin="round" opacity="0.75" transform="translate(-0.5 -0.6)"/>
<path d="M767.5 571.1C769.3 569.5 774.4 564.5 778.2 561.2C782.0 557.9 786.2 553.6 790.5 551.4C794.8 549.1 800.8 549.6 804.2 547.7C807.6 545.8 809.4 544.2 811.1 539.8C812.8 535.4 813.7 525.7 814.6 521.4C815.5 517.1 816.2 515.1 816.5 513.8" fill="none" stroke="#7a3f96" stroke-width="5.0" stroke-linecap="round" stroke-linejoin="round"/>
<path d="M767.5 571.1C769.3 569.5 774.4 564.5 778.2 561.2C782.0 557.9 786.2 553.6 790.5 551.4C794.8 549.1 800.8 549.6 804.2 547.7C807.6 545.8 809.4 544.2 811.1 539.8C812.8 535.4 813.7 525.7 814.6 521.4C815.5 517.1 816.2 515.1 816.5 513.8" fill="none" stroke="#b25fc4" stroke-width="3.7" stroke-linecap="round" stroke-linejoin="round" transform="translate(-0.3 -0.4)"/>
<path d="M767.5 571.1C769.3 569.5 774.4 564.5 778.2 561.2C782.0 557.9 786.2 553.6 790.5 551.4C794.8 549.1 800.8 549.6 804.2 547.7C807.6 545.8 809.4 544.2 811.1 539.8C812.8 535.4 813.7 525.7 814.6 521.4C815.5 517.1 816.2 515.1 816.5 513.8" fill="none" stroke="#dca0e8" stroke-width="1.5" stroke-linecap="round" stroke-linejoin="round" opacity="0.75" transform="translate(-0.5 -0.6)"/>
<path d="M784.6 577.0C785.5 576.2 788.2 573.5 790.0 572.0C791.8 570.5 794.7 568.8 795.6 568.2" fill="none" stroke="#7a3f96" stroke-width="5.0" stroke-linecap="round" stroke-linejoin="round"/>
<path d="M784.6 577.0C785.5 576.2 788.2 573.5 790.0 572.0C791.8 570.5 794.7 568.8 795.6 568.2" fill="none" stroke="#b25fc4" stroke-width="3.7" stroke-linecap="round" stroke-linejoin="round" transform="translate(-0.3 -0.4)"/>
<path d="M784.6 577.0C785.5 576.2 788.2 573.5 790.0 572.0C791.8 570.5 794.7 568.8 795.6 568.2" fill="none" stroke="#dca0e8" stroke-width="1.5" stroke-linecap="round" stroke-linejoin="round" opacity="0.75" transform="translate(-0.5 -0.6)"/>
<path d="M823.5 600.4C827.0 601.7 836.8 605.5 844.3 608.4C851.8 611.3 861.7 616.0 868.4 618.0C875.1 620.0 879.2 620.3 884.5 620.5C889.8 620.7 896.4 619.4 900.0 619.2C903.6 619.1 902.3 618.7 906.0 619.6C909.7 620.5 916.6 622.2 922.0 624.4C927.4 626.5 931.8 630.2 938.2 632.5C944.6 634.8 956.9 637.1 960.6 638.0" fill="none" stroke="#5e3382" stroke-width="5.4" stroke-linecap="round" stroke-linejoin="round"/>
<path d="M823.5 600.4C827.0 601.7 836.8 605.5 844.3 608.4C851.8 611.3 861.7 616.0 868.4 618.0C875.1 620.0 879.2 620.3 884.5 620.5C889.8 620.7 896.4 619.4 900.0 619.2C903.6 619.1 902.3 618.7 906.0 619.6C909.7 620.5 916.6 622.2 922.0 624.4C927.4 626.5 931.8 630.2 938.2 632.5C944.6 634.8 956.9 637.1 960.6 638.0" fill="none" stroke="#8446a4" stroke-width="4.1" stroke-linecap="round" stroke-linejoin="round" transform="translate(-0.3 -0.4)"/>
<path d="M823.5 600.4C827.0 601.7 836.8 605.5 844.3 608.4C851.8 611.3 861.7 616.0 868.4 618.0C875.1 620.0 879.2 620.3 884.5 620.5C889.8 620.7 896.4 619.4 900.0 619.2C903.6 619.1 902.3 618.7 906.0 619.6C909.7 620.5 916.6 622.2 922.0 624.4C927.4 626.5 931.8 630.2 938.2 632.5C944.6 634.8 956.9 637.1 960.6 638.0" fill="none" stroke="#c08ae0" stroke-width="1.6" stroke-linecap="round" stroke-linejoin="round" opacity="0.75" transform="translate(-0.5 -0.6)"/>
<path d="M925.0 534.8C927.5 534.2 934.7 531.6 940.0 531.2C945.3 530.8 954.2 532.1 957.0 532.3" fill="none" stroke="#5e3382" stroke-width="4.6" stroke-linecap="round" stroke-linejoin="round"/>
<path d="M925.0 534.8C927.5 534.2 934.7 531.6 940.0 531.2C945.3 530.8 954.2 532.1 957.0 532.3" fill="none" stroke="#a25fc0" stroke-width="3.3" stroke-linecap="round" stroke-linejoin="round" transform="translate(-0.3 -0.4)"/>
<path d="M943.5 466 L949 463.5 L951 468 L956 464 L955 472 L952.5 476.5 L947.5 475.5 L948.5 470.5 Z" fill="#4fa567" stroke="#3a8a52" stroke-width="1" stroke-linejoin="round"/>
<path d="M951.5 474.0C952.1 475.2 952.8 479.1 955.0 481.0C957.2 482.9 962.3 483.2 965.0 485.5C967.7 487.8 970.3 491.2 971.3 495.0C972.3 498.8 972.5 504.0 971.0 508.0C969.5 512.0 964.7 514.8 962.5 519.0C960.3 523.2 958.8 530.7 958.0 533.0" fill="none" stroke="#2c7a3e" stroke-width="4.6" stroke-linecap="round" stroke-linejoin="round"/>
<path d="M951.5 474.0C952.1 475.2 952.8 479.1 955.0 481.0C957.2 482.9 962.3 483.2 965.0 485.5C967.7 487.8 970.3 491.2 971.3 495.0C972.3 498.8 972.5 504.0 971.0 508.0C969.5 512.0 964.7 514.8 962.5 519.0C960.3 523.2 958.8 530.7 958.0 533.0" fill="none" stroke="#42a055" stroke-width="3.3" stroke-linecap="round" stroke-linejoin="round" transform="translate(-0.3 -0.4)"/>
<path d="M951.5 474.0C952.1 475.2 952.8 479.1 955.0 481.0C957.2 482.9 962.3 483.2 965.0 485.5C967.7 487.8 970.3 491.2 971.3 495.0C972.3 498.8 972.5 504.0 971.0 508.0C969.5 512.0 964.7 514.8 962.5 519.0C960.3 523.2 958.8 530.7 958.0 533.0" fill="none" stroke="#8fd49a" stroke-width="1.4" stroke-linecap="round" stroke-linejoin="round" opacity="0.75" transform="translate(-0.5 -0.6)"/>
<path d="M960.5 517.0C962.4 515.7 967.8 511.5 972.0 509.0C976.2 506.5 981.3 503.9 986.0 502.0C990.7 500.1 995.7 498.8 1000.0 497.5C1004.3 496.2 1007.9 495.2 1012.0 494.0C1016.1 492.8 1022.4 490.7 1024.5 490.0" fill="none" stroke="#2c7a3e" stroke-width="4.8" stroke-linecap="round" stroke-linejoin="round"/>
<path d="M960.5 517.0C962.4 515.7 967.8 511.5 972.0 509.0C976.2 506.5 981.3 503.9 986.0 502.0C990.7 500.1 995.7 498.8 1000.0 497.5C1004.3 496.2 1007.9 495.2 1012.0 494.0C1016.1 492.8 1022.4 490.7 1024.5 490.0" fill="none" stroke="#42a055" stroke-width="3.5" stroke-linecap="round" stroke-linejoin="round" transform="translate(-0.3 -0.4)"/>
<path d="M960.5 517.0C962.4 515.7 967.8 511.5 972.0 509.0C976.2 506.5 981.3 503.9 986.0 502.0C990.7 500.1 995.7 498.8 1000.0 497.5C1004.3 496.2 1007.9 495.2 1012.0 494.0C1016.1 492.8 1022.4 490.7 1024.5 490.0" fill="none" stroke="#8fd49a" stroke-width="1.4" stroke-linecap="round" stroke-linejoin="round" opacity="0.75" transform="translate(-0.5 -0.6)"/>
<path d="M1024.0 491.5C1022.3 492.8 1017.6 496.7 1014.0 499.0C1010.4 501.3 1006.1 503.5 1002.4 505.5C998.7 507.5 995.2 509.5 992.0 511.0C988.8 512.5 984.5 513.9 983.0 514.5" fill="none" stroke="#2c7a3e" stroke-width="4.4" stroke-linecap="round" stroke-linejoin="round"/>
<path d="M1024.0 491.5C1022.3 492.8 1017.6 496.7 1014.0 499.0C1010.4 501.3 1006.1 503.5 1002.4 505.5C998.7 507.5 995.2 509.5 992.0 511.0C988.8 512.5 984.5 513.9 983.0 514.5" fill="none" stroke="#42a055" stroke-width="3.1" stroke-linecap="round" stroke-linejoin="round" transform="translate(-0.3 -0.4)"/>
<path d="M1024.0 491.5C1022.3 492.8 1017.6 496.7 1014.0 499.0C1010.4 501.3 1006.1 503.5 1002.4 505.5C998.7 507.5 995.2 509.5 992.0 511.0C988.8 512.5 984.5 513.9 983.0 514.5" fill="none" stroke="#8fd49a" stroke-width="1.3" stroke-linecap="round" stroke-linejoin="round" opacity="0.75" transform="translate(-0.5 -0.6)"/>
<path d="M987 512 L1000.5 503.6 L1005 505 L991.5 513.5 Z" fill="#98dc62" opacity="0.9"/>
<path d="M992.8 533.4L992.1 533.2L991.2 533.0L990.1 532.7L988.9 532.4L987.6 532.1L986.2 531.7L984.9 531.4L983.6 531.1L982.4 530.8L981.3 530.5L980.4 530.3L979.6 530.1L978.8 529.9L978.1 529.7L977.3 529.5L976.5 529.3L975.7 529.1L974.9 528.9L974.0 528.7L972.8 528.5L973.2 525.6L960.6 531.8L970.8 541.4L971.2 538.5L971.9 538.7L972.6 538.8L973.3 539.0L974.0 539.2L974.7 539.4L975.4 539.6L976.1 539.8L976.9 540.0L977.8 540.2L978.7 540.5L979.8 540.8L981.0 541.1L982.2 541.4L983.6 541.8L984.9 542.2L986.2 542.5L987.5 542.8L988.6 543.1L989.5 543.4L990.2 543.6Z" fill="url(#gSalmonA)" stroke="none" stroke-width="0" stroke-linejoin="round"/>
<path d="M990.2 543.6L989.5 543.4L988.6 543.1L987.5 542.8L986.2 542.5L984.9 542.2L983.6 541.8L982.2 541.4L981.0 541.1L979.8 540.8L978.7 540.5L977.8 540.2L976.9 540.0L976.1 539.8L975.4 539.6L974.7 539.4L974.0 539.2L973.3 539.0L972.6 538.8L971.9 538.7" fill="none" stroke="#8a5238" stroke-width="1.4" stroke-linecap="round" opacity="0.8"/>
<circle cx="958.2" cy="513.2" r="2.6" fill="#cfa116"/>
<path d="M957.5 514.0C959.2 514.0 964.2 513.8 968.0 514.2C971.8 514.6 974.8 514.9 980.0 516.6C985.2 518.3 993.7 520.6 999.0 524.6C1004.3 528.6 1007.5 535.5 1012.0 540.6C1016.5 545.7 1021.7 551.4 1026.0 555.0C1030.3 558.6 1035.2 559.5 1038.0 562.5C1040.8 565.5 1043.1 569.6 1042.5 573.0C1041.9 576.4 1037.4 579.5 1034.5 582.7C1031.6 585.9 1026.9 588.6 1025.0 592.3C1023.1 596.0 1022.8 601.0 1023.0 605.0C1023.2 609.0 1025.2 613.1 1026.4 616.4C1027.7 619.6 1029.8 623.1 1030.5 624.5" fill="none" stroke="#8f6d0a" stroke-width="4.7" stroke-linecap="round" stroke-linejoin="round"/>
<path d="M957.5 514.0C959.2 514.0 964.2 513.8 968.0 514.2C971.8 514.6 974.8 514.9 980.0 516.6C985.2 518.3 993.7 520.6 999.0 524.6C1004.3 528.6 1007.5 535.5 1012.0 540.6C1016.5 545.7 1021.7 551.4 1026.0 555.0C1030.3 558.6 1035.2 559.5 1038.0 562.5C1040.8 565.5 1043.1 569.6 1042.5 573.0C1041.9 576.4 1037.4 579.5 1034.5 582.7C1031.6 585.9 1026.9 588.6 1025.0 592.3C1023.1 596.0 1022.8 601.0 1023.0 605.0C1023.2 609.0 1025.2 613.1 1026.4 616.4C1027.7 619.6 1029.8 623.1 1030.5 624.5" fill="none" stroke="#cfa116" stroke-width="3.4" stroke-linecap="round" stroke-linejoin="round" transform="translate(-0.3 -0.4)"/>
<path d="M957.5 514.0C959.2 514.0 964.2 513.8 968.0 514.2C971.8 514.6 974.8 514.9 980.0 516.6C985.2 518.3 993.7 520.6 999.0 524.6C1004.3 528.6 1007.5 535.5 1012.0 540.6C1016.5 545.7 1021.7 551.4 1026.0 555.0C1030.3 558.6 1035.2 559.5 1038.0 562.5C1040.8 565.5 1043.1 569.6 1042.5 573.0C1041.9 576.4 1037.4 579.5 1034.5 582.7C1031.6 585.9 1026.9 588.6 1025.0 592.3C1023.1 596.0 1022.8 601.0 1023.0 605.0C1023.2 609.0 1025.2 613.1 1026.4 616.4C1027.7 619.6 1029.8 623.1 1030.5 624.5" fill="none" stroke="#f2d662" stroke-width="1.4" stroke-linecap="round" stroke-linejoin="round" opacity="0.75" transform="translate(-0.5 -0.6)"/>
<path d="M917.5 483 L926 484.5 L930.5 482 L928 489 L929.5 494 L921 493.5 L918.5 489 Z" fill="#eda876" stroke="#c98256" stroke-width="0.6"/>
<path d="M855.0 432.5L863.5 428.5L870.0 435.0L866.5 441.8L861.0 441.8L855.5 437.0L855.0 432.5" fill="none" stroke="#ee33cc" stroke-width="2.9" stroke-linecap="round" stroke-linejoin="round"/>
<path d="M870.0 435.0L876.5 437.0L878.0 443.5L872.0 445.5L866.5 441.8" fill="none" stroke="#ee33cc" stroke-width="2.9" stroke-linecap="round" stroke-linejoin="round"/>
<path d="M878.0 443.5L881.0 448.0L889.5 449.5L892.5 457.0L884.5 461.8L877.5 457.0L881.0 448.0" fill="none" stroke="#ee33cc" stroke-width="2.9" stroke-linecap="round" stroke-linejoin="round"/>
<path d="M892.5 457.0L899.0 454.0" fill="none" stroke="#ee33cc" stroke-width="2.9" stroke-linecap="round" stroke-linejoin="round"/>
<path d="M877.5 457.0L874.0 462.5" fill="none" stroke="#ee33cc" stroke-width="2.9" stroke-linecap="round" stroke-linejoin="round"/>
<path d="M884.5 461.8L886.7 469.5" fill="none" stroke="#ee33cc" stroke-width="2.9" stroke-linecap="round" stroke-linejoin="round"/>
<path d="M905.5 458.5L906.0 462.5" fill="none" stroke="#ee33cc" stroke-width="1.8" stroke-linecap="round" stroke-linejoin="round"/>
<path d="M918.8 458.5L918.8 464.0" fill="none" stroke="#ee33cc" stroke-width="1.8" stroke-linecap="round" stroke-linejoin="round"/>
<path d="M921.0 455.5L926.9 451.5" fill="none" stroke="#ee33cc" stroke-width="1.8" stroke-linecap="round" stroke-linejoin="round"/>
<circle cx="854.6" cy="432.2" r="1.9" fill="#2f6fe8"/>
<circle cx="863.5" cy="428.2" r="1.9" fill="#2f6fe8"/>
<circle cx="861.0" cy="441.8" r="1.9" fill="#2f6fe8"/>
<circle cx="876.3" cy="443.4" r="1.9" fill="#2f6fe8"/>
<circle cx="873.9" cy="462.7" r="1.8" fill="#e0283a"/>
<circle cx="886.7" cy="469.9" r="1.8" fill="#e0283a"/>
<circle cx="906.0" cy="463.0" r="1.8" fill="#e0283a"/>
<circle cx="918.8" cy="464.5" r="1.8" fill="#e0283a"/>
<circle cx="926.9" cy="451.2" r="1.8" fill="#e0283a"/>
<circle cx="908.4" cy="471.5" r="2.0" fill="#a32fc8"/>
<path d="M905.0 404.0L906.0 409.0L909.0 412.0" fill="none" stroke="#ee33cc" stroke-width="2.9" stroke-linecap="round" stroke-linejoin="round"/>
<path d="M914.0 428.5L918.0 431.0L922.0 428.5" fill="none" stroke="#ee33cc" stroke-width="2.9" stroke-linecap="round" stroke-linejoin="round"/>
<path d="M918.0 431.0L918.0 439.0" fill="none" stroke="#ee33cc" stroke-width="2.9" stroke-linecap="round" stroke-linejoin="round"/>
<circle cx="918.0" cy="440.2" r="1.9" fill="#2f6fe8"/>
<path d="M928.5 484.4L931.7 492.5L954.2 497.3L961.4 501.3L963.8 510.0" fill="none" stroke="#ee33cc" stroke-width="3.4" stroke-linecap="round" stroke-linejoin="round"/>
<path d="M918.9 479.6L927.7 483.6L929.3 478.8" fill="none" stroke="#ee33cc" stroke-width="1.6" stroke-linecap="round" stroke-linejoin="round"/>
<path d="M934.0 476.4L927.7 483.6L931.0 491.7" fill="none" stroke="#ee33cc" stroke-width="1.6" stroke-linecap="round" stroke-linejoin="round"/>
<circle cx="927.7" cy="483.6" r="1.7" fill="#e6c226"/>
<circle cx="918.9" cy="479.6" r="1.8" fill="#e0283a"/>
<circle cx="929.3" cy="478.8" r="1.8" fill="#e0283a"/>
<circle cx="934.0" cy="476.4" r="1.8" fill="#e0283a"/>
<circle cx="931.0" cy="491.7" r="1.8" fill="#e0283a"/>
<path d="M1018.6 478.0L1017.0 502.0L1013.6 518.0L1006.4 522.2" fill="none" stroke="#ee33cc" stroke-width="3.0" stroke-linecap="round" stroke-linejoin="round"/>
<path d="M1012.8 474.0L1020.8 477.2L1024.8 470.8" fill="none" stroke="#ee33cc" stroke-width="1.5" stroke-linecap="round" stroke-linejoin="round"/>
<path d="M1027.2 480.4L1020.8 477.2L1017.6 485.2" fill="none" stroke="#ee33cc" stroke-width="1.5" stroke-linecap="round" stroke-linejoin="round"/>
<circle cx="1020.8" cy="477.2" r="1.7" fill="#e6c226"/>
<circle cx="1012.8" cy="474.0" r="1.8" fill="#e0283a"/>
<circle cx="1024.8" cy="470.8" r="1.8" fill="#e0283a"/>
<circle cx="1027.2" cy="480.4" r="1.8" fill="#e0283a"/>
<circle cx="1017.6" cy="485.2" r="1.8" fill="#e0283a"/>
<circle cx="756.9" cy="531.8" r="2.4" fill="#9a3fa2"/>
<circle cx="748.3" cy="539.8" r="2.4" fill="#9a3fa2"/>
<circle cx="748.3" cy="550.3" r="2.4" fill="#9a3fa2"/>
<circle cx="752.5" cy="562.8" r="2.4" fill="#9a3fa2"/>
<circle cx="760.0" cy="570.8" r="2.4" fill="#9a3fa2"/>
</g>
<g id="labels" font-family="&quot;Liberation Sans&quot;, Arial, sans-serif">
<text transform="translate(757.4 376.5) scale(0.90 1)" font-size="10.7" font-weight="normal" style="fill:#333333;stroke:#333333;stroke-width:0.3px" textLength="48.9" lengthAdjust="spacing">N LOBE</text>
<text transform="translate(970.0 391.4) scale(0.90 1)" font-size="10.4" font-weight="normal" style="fill:#9b3148;stroke:#9b3148;stroke-width:0.3px" textLength="51.3" lengthAdjust="spacing">C HELIX</text>
<text transform="translate(795.0 419.4) scale(0.90 1)" font-size="10.2" font-weight="normal" style="fill:#ab6a52;stroke:#ab6a52;stroke-width:0.3px" textLength="40.7" lengthAdjust="spacing">HINGE</text>
<text transform="translate(853.6 462.0) scale(0.90 1)" font-size="9.2" font-weight="normal" style="fill:#1c1c1c;stroke:#1c1c1c;stroke-width:0.3px" textLength="21.8" lengthAdjust="spacing">ADP</text>
<text transform="translate(954.8 461.6) scale(0.90 1)" font-size="10.2" font-weight="normal" style="fill:#c8303f;stroke:#c8303f;stroke-width:0.3px" textLength="47.6" lengthAdjust="spacing">P LOOP</text>
<text transform="translate(966.0 482.8) scale(0.90 1)" font-size="10.2" font-weight="normal" style="fill:#3c9e50;stroke:#3c9e50;stroke-width:0.3px" textLength="48.7" lengthAdjust="spacing">A LOOP</text>
<text transform="translate(900.2 487.2) scale(0.90 1)" font-size="9.6" font-weight="normal" style="fill:#1c1c1c;stroke:#1c1c1c;stroke-width:0.3px" textLength="16.0" lengthAdjust="spacing">Mg</text>
<text transform="translate(1030.2 445.8) scale(0.90 1)" font-size="9.0" font-weight="normal" style="fill:#1c1c1c;stroke:#1c1c1c;stroke-width:0.3px">N</text>
<text transform="translate(756.6 525.5) scale(0.90 1)" font-size="10.6" font-weight="normal" style="fill:#222222;stroke:#222222;stroke-width:0.3px" textLength="22.0" lengthAdjust="spacing">KID</text>
<text transform="translate(775.2 584.4) scale(0.90 1)" font-size="9.8" font-weight="normal" style="fill:#333333;stroke:#333333;stroke-width:0.3px">C</text>
<text transform="translate(752.6 611.4) scale(0.90 1)" font-size="10.7" font-weight="normal" style="fill:#3a3a3a;stroke:#3a3a3a;stroke-width:0.3px" textLength="48.7" lengthAdjust="spacing">C LOBE</text>
<text transform="translate(982.8 632.6) scale(0.86 1)" font-size="9.8" font-weight="normal" style="fill:#a8705a;stroke:#a8705a;stroke-width:0.3px" textLength="74.4" lengthAdjust="spacing">SUBSTRATE</text>
<text transform="translate(989.2 643.0) scale(0.86 1)" font-size="9.8" font-weight="normal" style="fill:#a8705a;stroke:#a8705a;stroke-width:0.3px" textLength="52.1" lengthAdjust="spacing">PEPTIDE</text>
</g>
</g>

</svg>
</body>
</html>
